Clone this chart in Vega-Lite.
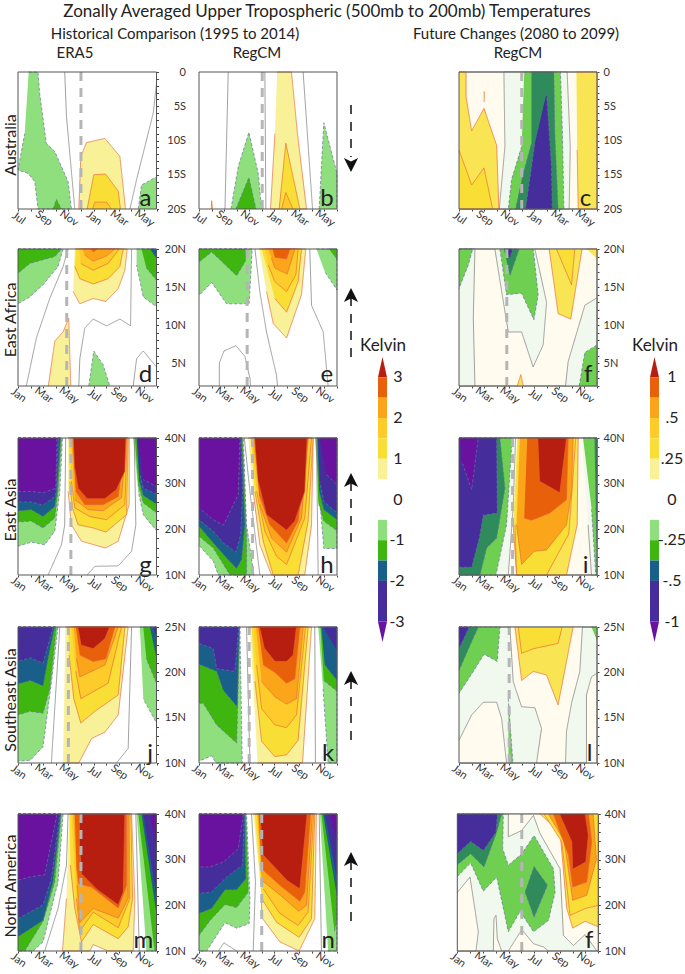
{"padding":0,"background":"white","autosize":"none","width":685,"height":974,"config":{"view":{"stroke":null},"axis":{"grid":false,"domain":false,"tickColor":"#444","labelFont":"Lato","labelFontSize":11,"labelColor":"#333","labelOverlap":false,"labelBound":false,"labelFlush":false,"title":null,"tickSize":2},"axisBottom":{"labelAngle":35,"labelAlign":"center","labelBaseline":"middle","labelPadding":7},"text":{"font":"Lato","color":"#222"}},
"datasets":{
"notes":[{"p":"a","d":5,"t":"a","x":10.13,"y":-18.6,"x0":0,"x1":11,"y0":-20,"y1":0},{"p":"b","d":5.04,"t":"b","x":10.2,"y":-18.6,"x0":0,"x1":11,"y0":-20,"y1":0},{"p":"c","d":5,"t":"c","x":10.08,"y":-18.6,"x0":0,"x1":11,"y0":-20,"y1":0},{"p":"d","d":3.87,"t":"d","x":10.13,"y":3.4,"x0":0,"x1":11,"y0":2,"y1":20},{"p":"e","d":3.84,"t":"e","x":10.2,"y":3.4,"x0":0,"x1":11,"y0":2,"y1":20},{"p":"f","d":3.81,"t":"f","x":10.3,"y":3.4,"x0":0,"x1":11,"y0":2,"y1":20},{"p":"g","d":4.2,"t":"g","x":10.13,"y":12,"x0":0,"x1":11,"y0":10,"y1":40},{"p":"h","d":4.27,"t":"h","x":10.2,"y":12,"x0":0,"x1":11,"y0":10,"y1":40},{"p":"i","d":4.27,"t":"i","x":10.1,"y":12,"x0":0,"x1":11,"y0":10,"y1":40},{"p":"j","d":4,"t":"j","x":10.5,"y":11,"x0":0,"x1":11,"y0":10,"y1":25},{"p":"k","d":4,"t":"k","x":10.3,"y":11,"x0":0,"x1":11,"y0":10,"y1":25},{"p":"l","d":4,"t":"l","x":10.4,"y":11,"x0":0,"x1":11,"y0":10,"y1":25},{"p":"m","d":5,"t":"m","x":9.95,"y":12.2,"x0":0,"x1":11,"y0":10,"y1":40},{"p":"n","d":5,"t":"n","x":10.3,"y":12.2,"x0":0,"x1":11,"y0":10,"y1":40},{"p":"o","d":5.03,"t":"f","x":10.3,"y":12.2,"x0":0,"x1":11,"y0":10,"y1":40}],
"a":[
{"k":1,"l":"N1","x":0.85,"y":0},{"k":1,"l":"N1","x":1.59,"y":0},{"k":1,"l":"N1","x":1.72,"y":-3.1},{"k":1,"l":"N1","x":2.25,"y":-10.4},{"k":1,"l":"N1","x":2.92,"y":-11.6},{"k":1,"l":"N1","x":3.98,"y":-16},{"k":1,"l":"N1","x":4.24,"y":-20},{"k":1,"l":"N1","x":1.59,"y":-20},{"k":1,"l":"N1","x":1.33,"y":-16},{"k":1,"l":"N1","x":0.8,"y":-14.8},{"k":1,"l":"N1","x":0,"y":-14.3},{"k":1,"l":"N1","x":0.53,"y":-9},
{"k":2,"l":"N2","x":2.79,"y":-20},{"k":2,"l":"N2","x":3.05,"y":-18.6},{"k":2,"l":"N2","x":3.45,"y":-20},
{"k":3,"l":"Z","x":3.71,"y":0},{"k":3,"l":"Z","x":3.85,"y":-6.5},{"k":3,"l":"Z","x":4.51,"y":-20},
{"k":4,"l":"P1","x":4.83,"y":-20},{"k":4,"l":"P1","x":4.99,"y":-12.3},{"k":4,"l":"P1","x":5.44,"y":-10.3},{"k":4,"l":"P1","x":6.9,"y":-9.7},{"k":4,"l":"P1","x":8.09,"y":-12.3},{"k":4,"l":"P1","x":8.54,"y":-20},
{"k":5,"l":"P2","x":5.49,"y":-20},{"k":5,"l":"P2","x":6.02,"y":-15},{"k":5,"l":"P2","x":6.95,"y":-14.9},{"k":5,"l":"P2","x":7.96,"y":-17.4},{"k":5,"l":"P2","x":8.14,"y":-20},
{"k":6,"l":"P3","x":5.92,"y":-20},{"k":6,"l":"P3","x":6.1,"y":-19},{"k":6,"l":"P3","x":7.03,"y":-19},{"k":6,"l":"P3","x":7.43,"y":-20},
{"k":7,"l":"Z","x":8.89,"y":-20},{"k":7,"l":"Z","x":9.42,"y":-15.7},{"k":7,"l":"Z","x":10.74,"y":-6},{"k":7,"l":"Z","x":11,"y":-1.7},
{"k":8,"l":"N1","x":9.55,"y":-20},{"k":8,"l":"N1","x":9.81,"y":-16.5},{"k":8,"l":"N1","x":11,"y":-15.3},{"k":8,"l":"N1","x":11,"y":-20}],
"b":[
{"k":1,"l":"Z","x":2.33,"y":0},{"k":1,"l":"Z","x":2.07,"y":-20},
{"k":2,"l":"Z","x":5.25,"y":0},{"k":2,"l":"Z","x":5.33,"y":-20},
{"k":3,"l":"Z","x":8.3,"y":0},{"k":3,"l":"Z","x":9.05,"y":-20},
{"k":4,"l":"P1","x":0.98,"y":-20},{"k":4,"l":"P1","x":1.01,"y":-18.8},{"k":4,"l":"P1","x":1.09,"y":-20},
{"k":5,"l":"N1","x":2.55,"y":-20},{"k":5,"l":"N1","x":3.13,"y":-13.8},{"k":5,"l":"N1","x":3.98,"y":-8.8},{"k":5,"l":"N1","x":4.72,"y":-14.8},{"k":5,"l":"N1","x":4.99,"y":-20},
{"k":6,"l":"N2","x":2.94,"y":-20},{"k":6,"l":"N2","x":3.98,"y":-15.4},{"k":6,"l":"N2","x":4.54,"y":-20},
{"k":7,"l":"N1","x":9.58,"y":-20},{"k":7,"l":"N1","x":9.95,"y":-7.4},{"k":7,"l":"N1","x":11,"y":-14.8},{"k":7,"l":"N1","x":11,"y":-20},
{"k":8,"l":"P1","x":6.23,"y":0},{"k":8,"l":"P1","x":7.37,"y":0},{"k":8,"l":"P1","x":7.85,"y":-9},{"k":8,"l":"P1","x":8.57,"y":-20},{"k":8,"l":"P1","x":5.7,"y":-20},{"k":8,"l":"P1","x":6.05,"y":-9},
{"k":9,"l":"P2","x":6.39,"y":-20},{"k":9,"l":"P2","x":6.92,"y":-10.4},{"k":9,"l":"P2","x":8.04,"y":-20},
{"k":10,"l":"P3","x":6.58,"y":-20},{"k":10,"l":"P3","x":6.92,"y":-17.6},{"k":10,"l":"P3","x":7.5,"y":-20}],
"c":[
{"k":1,"l":"F1","x":0,"y":0},{"k":1,"l":"F1","x":11,"y":0},{"k":1,"l":"F1","x":11,"y":-20},{"k":1,"l":"F1","x":0,"y":-20},
{"k":2,"l":"G1","x":3.58,"y":0},{"k":2,"l":"G1","x":8.62,"y":0},{"k":2,"l":"G1","x":8.87,"y":-11},{"k":2,"l":"G1","x":8.78,"y":-20},{"k":2,"l":"G1","x":3.21,"y":-20},{"k":2,"l":"G1","x":3.66,"y":-10.9},{"k":2,"l":"G1","x":3.58,"y":0},
{"k":3,"l":"F2","x":0,"y":0},{"k":3,"l":"F2","x":0.56,"y":0},{"k":3,"l":"F2","x":0.56,"y":-3.6},{"k":3,"l":"F2","x":1.01,"y":-8.6},{"k":3,"l":"F2","x":1.99,"y":-5.3},{"k":3,"l":"F2","x":3,"y":-10.7},{"k":3,"l":"F2","x":3.18,"y":-20},{"k":3,"l":"F2","x":0,"y":-20},
{"k":4,"l":"P2","x":0,"y":-11.4},{"k":4,"l":"P2","x":1.01,"y":-16.5},{"k":4,"l":"P2","x":1.99,"y":-14},{"k":4,"l":"P2","x":2.68,"y":-20},{"k":4,"l":"P2","x":0,"y":-20},
{"k":5,"l":"F2","x":1.96,"y":-2.9},{"k":5,"l":"F2","x":2.02,"y":-2.9},{"k":5,"l":"F2","x":2,"y":-4.4},
{"k":6,"l":"G2","x":5.2,"y":0},{"k":6,"l":"G2","x":8.09,"y":0},{"k":6,"l":"G2","x":8.25,"y":-9.4},{"k":6,"l":"G2","x":8.36,"y":-20},{"k":6,"l":"G2","x":3.93,"y":-20},{"k":6,"l":"G2","x":4.19,"y":-15.7},{"k":6,"l":"G2","x":4.99,"y":-10.9},
{"k":7,"l":"G3","x":5.78,"y":0},{"k":7,"l":"G3","x":7.56,"y":0},{"k":7,"l":"G3","x":7.64,"y":-9},{"k":7,"l":"G3","x":7.9,"y":-20},{"k":7,"l":"G3","x":4.51,"y":-20},{"k":7,"l":"G3","x":5.12,"y":-14.8},{"k":7,"l":"G3","x":5.78,"y":-10.4},
{"k":8,"l":"N4","x":6.98,"y":-3.1},{"k":8,"l":"N4","x":7.37,"y":-13.8},{"k":8,"l":"N4","x":7.43,"y":-20},{"k":8,"l":"N4","x":5.3,"y":-20},{"k":8,"l":"N4","x":6.05,"y":-10.4},
{"k":9,"l":"F2","x":9.36,"y":0},{"k":9,"l":"F2","x":11,"y":0},{"k":9,"l":"F2","x":11,"y":-20},{"k":9,"l":"F2","x":9.5,"y":-20},{"k":9,"l":"F2","x":9.42,"y":-11.4}],
"d":[
{"k":1,"l":"N1","x":0,"y":20},{"k":1,"l":"N1","x":3.58,"y":20},{"k":1,"l":"N1","x":3.18,"y":17.7},{"k":1,"l":"N1","x":1.99,"y":15.3},{"k":1,"l":"N1","x":0.93,"y":13.7},{"k":1,"l":"N1","x":0,"y":12.8},
{"k":2,"l":"N2","x":0,"y":20},{"k":2,"l":"N2","x":3.45,"y":20},{"k":2,"l":"N2","x":2.92,"y":19},{"k":2,"l":"N2","x":1.99,"y":18.6},{"k":2,"l":"N2","x":0.93,"y":18.1},{"k":2,"l":"N2","x":0,"y":16.8},
{"k":3,"l":"Z","x":3.98,"y":20},{"k":3,"l":"Z","x":3.58,"y":17.7},{"k":3,"l":"Z","x":2.52,"y":13.5},{"k":3,"l":"Z","x":1.46,"y":8.3},{"k":3,"l":"Z","x":0.66,"y":2},
{"k":4,"l":"P1","x":2.41,"y":2},{"k":4,"l":"P1","x":2.92,"y":7.9},{"k":4,"l":"P1","x":3.58,"y":9.1},{"k":4,"l":"P1","x":4.03,"y":10.9},{"k":4,"l":"P1","x":4.19,"y":2},
{"k":5,"l":"P1","x":4.51,"y":20},{"k":5,"l":"P1","x":8.67,"y":20},{"k":5,"l":"P1","x":8.49,"y":17.2},{"k":5,"l":"P1","x":7.96,"y":14.8},{"k":5,"l":"P1","x":6.98,"y":13.1},{"k":5,"l":"P1","x":5.97,"y":13.5},{"k":5,"l":"P1","x":4.91,"y":12.8},{"k":5,"l":"P1","x":4.38,"y":14.4},
{"k":6,"l":"P2","x":4.59,"y":20},{"k":6,"l":"P2","x":8.36,"y":20},{"k":6,"l":"P2","x":8.09,"y":17.7},{"k":6,"l":"P2","x":7.16,"y":16.1},{"k":6,"l":"P2","x":5.97,"y":15.4},{"k":6,"l":"P2","x":4.91,"y":16.1},{"k":6,"l":"P2","x":4.51,"y":17.7},
{"k":7,"l":"P3","x":4.85,"y":20},{"k":7,"l":"P3","x":8.03,"y":20},{"k":7,"l":"P3","x":7.16,"y":18.1},{"k":7,"l":"P3","x":5.97,"y":17.2},{"k":7,"l":"P3","x":4.99,"y":18.1},
{"k":8,"l":"P4","x":5.12,"y":20},{"k":8,"l":"P4","x":7.69,"y":20},{"k":8,"l":"P4","x":7.03,"y":19.1},{"k":8,"l":"P4","x":5.97,"y":18.4},{"k":8,"l":"P4","x":5.3,"y":19.2},
{"k":9,"l":"P5","x":5.76,"y":20},{"k":9,"l":"P5","x":6.29,"y":20},{"k":9,"l":"P5","x":5.97,"y":19.6},
{"k":10,"l":"Z","x":4.83,"y":2},{"k":10,"l":"Z","x":4.91,"y":5.6},{"k":10,"l":"Z","x":5.3,"y":9.6},{"k":10,"l":"Z","x":5.97,"y":10.8},{"k":10,"l":"Z","x":7.03,"y":9.9},{"k":10,"l":"Z","x":8.09,"y":10.8},{"k":10,"l":"Z","x":8.94,"y":9.9},{"k":10,"l":"Z","x":9.02,"y":20},
{"k":11,"l":"N1","x":5.62,"y":2},{"k":11,"l":"N1","x":6.02,"y":6.6},{"k":11,"l":"N1","x":6.76,"y":4.8},{"k":11,"l":"N1","x":7.29,"y":2},
{"k":12,"l":"N1","x":9.42,"y":20},{"k":12,"l":"N1","x":11,"y":20},{"k":12,"l":"N1","x":11,"y":12.4},{"k":12,"l":"N1","x":9.95,"y":13.7},{"k":12,"l":"N1","x":9.42,"y":17.9},
{"k":13,"l":"N2","x":9.81,"y":20},{"k":13,"l":"N2","x":11,"y":20},{"k":13,"l":"N2","x":11,"y":15.9},{"k":13,"l":"N2","x":10.2,"y":17.5},
{"k":14,"l":"N3","x":10.48,"y":20},{"k":14,"l":"N3","x":11,"y":20},{"k":14,"l":"N3","x":11,"y":18.8},
{"k":15,"l":"Z","x":9.15,"y":2},{"k":15,"l":"Z","x":9.42,"y":5.6},{"k":15,"l":"Z","x":9.95,"y":6.6},{"k":15,"l":"Z","x":11,"y":4.5}],
"e":[
{"k":1,"l":"N1","x":0,"y":20},{"k":1,"l":"N1","x":4.24,"y":20},{"k":1,"l":"N1","x":4,"y":12.8},{"k":1,"l":"N1","x":2.2,"y":12.8},{"k":1,"l":"N1","x":1.01,"y":15.6},{"k":1,"l":"N1","x":0,"y":13.9},
{"k":2,"l":"N2","x":0,"y":20},{"k":2,"l":"N2","x":3.93,"y":20},{"k":2,"l":"N2","x":3.66,"y":18.3},{"k":2,"l":"N2","x":3,"y":16.5},{"k":2,"l":"N2","x":1.67,"y":18.6},{"k":2,"l":"N2","x":1.01,"y":19.6},{"k":2,"l":"N2","x":0,"y":18.3},
{"k":3,"l":"Z","x":1.62,"y":2},{"k":3,"l":"Z","x":1.62,"y":5},{"k":3,"l":"Z","x":1.99,"y":6.6},{"k":3,"l":"Z","x":2.94,"y":7.3},{"k":3,"l":"Z","x":3.66,"y":5.9},{"k":3,"l":"Z","x":4.06,"y":3},{"k":3,"l":"Z","x":4.11,"y":2},
{"k":4,"l":"Z","x":4.46,"y":20},{"k":4,"l":"Z","x":4.85,"y":14.4},{"k":4,"l":"Z","x":5.38,"y":9.1},{"k":4,"l":"Z","x":6.18,"y":3.4},{"k":4,"l":"Z","x":6.26,"y":2},
{"k":5,"l":"P1","x":4.8,"y":20},{"k":5,"l":"P1","x":8.51,"y":20},{"k":5,"l":"P1","x":8.17,"y":14},{"k":5,"l":"P1","x":6.98,"y":8.3},{"k":5,"l":"P1","x":5.92,"y":10.2},{"k":5,"l":"P1","x":5.38,"y":14.4},
{"k":6,"l":"P2","x":4.99,"y":20},{"k":6,"l":"P2","x":8.17,"y":20},{"k":6,"l":"P2","x":7.9,"y":15.7},{"k":6,"l":"P2","x":6.98,"y":11.7},{"k":6,"l":"P2","x":6.05,"y":13.5},
{"k":7,"l":"P3","x":5.25,"y":20},{"k":7,"l":"P3","x":7.9,"y":20},{"k":7,"l":"P3","x":7.72,"y":16.6},{"k":7,"l":"P3","x":6.98,"y":14.4},{"k":7,"l":"P3","x":6.05,"y":15.7},{"k":7,"l":"P3","x":5.52,"y":17.9},
{"k":8,"l":"P4","x":5.52,"y":20},{"k":8,"l":"P4","x":7.64,"y":20},{"k":8,"l":"P4","x":7.03,"y":16.7},{"k":8,"l":"P4","x":6.05,"y":17.5},{"k":8,"l":"P4","x":5.78,"y":18.8},
{"k":9,"l":"P5","x":5.86,"y":20},{"k":9,"l":"P5","x":7.24,"y":20},{"k":9,"l":"P5","x":6.98,"y":18.7},{"k":9,"l":"P5","x":6.05,"y":18.9},
{"k":10,"l":"Z","x":8.83,"y":20},{"k":10,"l":"Z","x":8.97,"y":12.6},{"k":10,"l":"Z","x":9.9,"y":9.1},{"k":10,"l":"Z","x":10.29,"y":2},
{"k":11,"l":"N1","x":9.36,"y":20},{"k":11,"l":"N1","x":11,"y":20},{"k":11,"l":"N1","x":11,"y":14.6},{"k":11,"l":"N1","x":10.03,"y":17},
{"k":12,"l":"N2","x":10.37,"y":20},{"k":12,"l":"N2","x":11,"y":20},{"k":12,"l":"N2","x":11,"y":18.6}],
"f":[
{"k":1,"l":"F1","x":0,"y":20},{"k":1,"l":"F1","x":11,"y":20},{"k":1,"l":"F1","x":11,"y":2},{"k":1,"l":"F1","x":0,"y":2},
{"k":2,"l":"G1","x":0,"y":20},{"k":2,"l":"G1","x":1.27,"y":20},{"k":2,"l":"G1","x":1.14,"y":10.9},{"k":2,"l":"G1","x":1.27,"y":2},{"k":2,"l":"G1","x":0,"y":2},
{"k":3,"l":"G1","x":2.86,"y":20},{"k":3,"l":"G1","x":3.53,"y":13.1},{"k":3,"l":"G1","x":3.93,"y":9.1},{"k":3,"l":"G1","x":4.99,"y":9.1},{"k":3,"l":"G1","x":5.91,"y":4.5},{"k":3,"l":"G1","x":6.71,"y":7.4},{"k":3,"l":"G1","x":6.98,"y":13},{"k":3,"l":"G1","x":6.05,"y":20},
{"k":4,"l":"G1","x":8.49,"y":2},{"k":4,"l":"G1","x":8.7,"y":5.2},{"k":4,"l":"G1","x":10.03,"y":12.6},{"k":4,"l":"G1","x":11,"y":13.6},{"k":4,"l":"G1","x":11,"y":2},
{"k":5,"l":"G2","x":0,"y":20},{"k":5,"l":"G2","x":1.09,"y":20},{"k":5,"l":"G2","x":0.74,"y":17.9},{"k":5,"l":"G2","x":0,"y":14.8},
{"k":6,"l":"G2","x":3.26,"y":20},{"k":6,"l":"G2","x":3.79,"y":14},{"k":6,"l":"G2","x":4.99,"y":14.2},{"k":6,"l":"G2","x":5.97,"y":10.7},{"k":6,"l":"G2","x":6.31,"y":14},{"k":6,"l":"G2","x":5.92,"y":20},
{"k":7,"l":"G2","x":9.58,"y":2},{"k":7,"l":"G2","x":10.03,"y":6.4},{"k":7,"l":"G2","x":11,"y":7.4},{"k":7,"l":"G2","x":11,"y":2},
{"k":8,"l":"G3","x":3.58,"y":20},{"k":8,"l":"G3","x":4.8,"y":20},{"k":8,"l":"G3","x":4.06,"y":16.5},
{"k":9,"l":"N4","x":3.79,"y":20},{"k":9,"l":"N4","x":4.27,"y":20},{"k":9,"l":"N4","x":4.06,"y":18.8},
{"k":10,"l":"F2","x":7.19,"y":20},{"k":10,"l":"F2","x":7.9,"y":11.5},{"k":10,"l":"F2","x":8.91,"y":10.8},{"k":10,"l":"F2","x":9.81,"y":20},
{"k":11,"l":"P2","x":7.77,"y":20},{"k":11,"l":"P2","x":8.97,"y":15.3},{"k":11,"l":"P2","x":9.23,"y":20},
{"k":12,"l":"F2","x":10.21,"y":20},{"k":12,"l":"F2","x":11,"y":20},{"k":12,"l":"F2","x":11,"y":18.7},
{"k":13,"l":"F2","x":4.64,"y":2},{"k":13,"l":"F2","x":4.93,"y":3.5},{"k":13,"l":"F2","x":5.12,"y":2}],
"g":[
{"k":1,"l":"N1","x":0,"y":40},{"k":1,"l":"N1","x":3.53,"y":40},{"k":1,"l":"N1","x":3.32,"y":28.3},{"k":1,"l":"N1","x":2.92,"y":19.6},{"k":1,"l":"N1","x":2.12,"y":16.6},{"k":1,"l":"N1","x":1.06,"y":17.2},{"k":1,"l":"N1","x":0,"y":16.3},
{"k":2,"l":"N2","x":0,"y":40},{"k":2,"l":"N2","x":3.45,"y":40},{"k":2,"l":"N2","x":3.18,"y":28.3},{"k":2,"l":"N2","x":2.92,"y":22.5},{"k":2,"l":"N2","x":1.99,"y":20.3},{"k":2,"l":"N2","x":1.06,"y":21.8},{"k":2,"l":"N2","x":0,"y":21.6},
{"k":3,"l":"N3","x":0,"y":40},{"k":3,"l":"N3","x":3.37,"y":40},{"k":3,"l":"N3","x":3.1,"y":28.3},{"k":3,"l":"N3","x":2.92,"y":25},{"k":3,"l":"N3","x":1.99,"y":22.8},{"k":3,"l":"N3","x":1.06,"y":24.3},{"k":3,"l":"N3","x":0,"y":24},
{"k":4,"l":"N4","x":0,"y":40},{"k":4,"l":"N4","x":3.2,"y":40},{"k":4,"l":"N4","x":3,"y":28},{"k":4,"l":"N4","x":2.92,"y":27.2},{"k":4,"l":"N4","x":1.99,"y":25.3},{"k":4,"l":"N4","x":1.06,"y":26},{"k":4,"l":"N4","x":0,"y":26},
{"k":5,"l":"N5","x":0,"y":40},{"k":5,"l":"N5","x":3.1,"y":40},{"k":5,"l":"N5","x":3,"y":29},{"k":5,"l":"N5","x":1.99,"y":28},{"k":5,"l":"N5","x":1.06,"y":28.3},{"k":5,"l":"N5","x":0,"y":28.3},
{"k":6,"l":"N1","x":9.15,"y":40},{"k":6,"l":"N1","x":11,"y":40},{"k":6,"l":"N1","x":11,"y":19.7},{"k":6,"l":"N1","x":9.95,"y":23.2},{"k":6,"l":"N1","x":9.55,"y":28.3},
{"k":7,"l":"N2","x":9.28,"y":40},{"k":7,"l":"N2","x":11,"y":40},{"k":7,"l":"N2","x":11,"y":23.6},{"k":7,"l":"N2","x":9.95,"y":25.8},{"k":7,"l":"N2","x":9.55,"y":29.8},
{"k":8,"l":"N3","x":9.42,"y":40},{"k":8,"l":"N3","x":11,"y":40},{"k":8,"l":"N3","x":11,"y":25.5},{"k":8,"l":"N3","x":9.95,"y":27.4},{"k":8,"l":"N3","x":9.63,"y":30.5},
{"k":9,"l":"N4","x":9.47,"y":40},{"k":9,"l":"N4","x":11,"y":40},{"k":9,"l":"N4","x":11,"y":27.7},{"k":9,"l":"N4","x":9.95,"y":29},{"k":9,"l":"N4","x":9.68,"y":32},
{"k":10,"l":"N5","x":9.55,"y":40},{"k":10,"l":"N5","x":11,"y":40},{"k":10,"l":"N5","x":11,"y":29.4},{"k":10,"l":"N5","x":9.95,"y":30.9},
{"k":11,"l":"Z","x":3.79,"y":40},{"k":11,"l":"Z","x":3.71,"y":21},{"k":11,"l":"Z","x":3.45,"y":16.6},{"k":11,"l":"Z","x":2.39,"y":10},
{"k":12,"l":"Z","x":9.23,"y":40},{"k":12,"l":"Z","x":9.36,"y":21},{"k":12,"l":"Z","x":9.02,"y":15.2},{"k":12,"l":"Z","x":7.96,"y":12},{"k":12,"l":"Z","x":6.1,"y":11.9},{"k":12,"l":"Z","x":5.49,"y":10},
{"k":13,"l":"P1","x":3.98,"y":40},{"k":13,"l":"P1","x":8.83,"y":40},{"k":13,"l":"P1","x":8.83,"y":25.4},{"k":13,"l":"P1","x":7.96,"y":17.4},{"k":13,"l":"P1","x":6.95,"y":15.9},{"k":13,"l":"P1","x":5.04,"y":17.4},{"k":13,"l":"P1","x":4.24,"y":21},{"k":13,"l":"P1","x":3.98,"y":28.3},
{"k":14,"l":"P2","x":4.03,"y":40},{"k":14,"l":"P2","x":8.75,"y":40},{"k":14,"l":"P2","x":8.62,"y":23.2},{"k":14,"l":"P2","x":6.98,"y":19.4},{"k":14,"l":"P2","x":5.97,"y":20.3},{"k":14,"l":"P2","x":4.77,"y":21},{"k":14,"l":"P2","x":4.32,"y":24.7},{"k":14,"l":"P2","x":4.11,"y":30.5},
{"k":15,"l":"P3","x":4.16,"y":40},{"k":15,"l":"P3","x":8.67,"y":40},{"k":15,"l":"P3","x":8.49,"y":25.4},{"k":15,"l":"P3","x":7.03,"y":22.1},{"k":15,"l":"P3","x":5.7,"y":22.8},{"k":15,"l":"P3","x":4.51,"y":24.7},{"k":15,"l":"P3","x":4.24,"y":30.5},
{"k":16,"l":"P4","x":4.24,"y":40},{"k":16,"l":"P4","x":8.62,"y":40},{"k":16,"l":"P4","x":8.22,"y":26.9},{"k":16,"l":"P4","x":6.76,"y":24.1},{"k":16,"l":"P4","x":5.57,"y":24.3},{"k":16,"l":"P4","x":4.51,"y":26.5},
{"k":17,"l":"P5","x":4.32,"y":40},{"k":17,"l":"P5","x":8.57,"y":40},{"k":17,"l":"P5","x":7.96,"y":27.2},{"k":17,"l":"P5","x":6.76,"y":25.4},{"k":17,"l":"P5","x":5.3,"y":25.4},{"k":17,"l":"P5","x":4.59,"y":28.3},
{"k":18,"l":"P6","x":4.43,"y":40},{"k":18,"l":"P6","x":8.57,"y":40},{"k":18,"l":"P6","x":8.49,"y":32.7},{"k":18,"l":"P6","x":7.82,"y":28.7},{"k":18,"l":"P6","x":6.9,"y":26.7},{"k":18,"l":"P6","x":5.49,"y":26.7},{"k":18,"l":"P6","x":4.77,"y":29},{"k":18,"l":"P6","x":4.51,"y":33.4}],
"h":[
{"k":1,"l":"N1","x":0,"y":40},{"k":1,"l":"N1","x":3.53,"y":40},{"k":1,"l":"N1","x":3.79,"y":21},{"k":1,"l":"N1","x":4.38,"y":10},{"k":1,"l":"N1","x":1.54,"y":10},{"k":1,"l":"N1","x":1.14,"y":13},{"k":1,"l":"N1","x":0,"y":16.5},
{"k":2,"l":"N2","x":0,"y":40},{"k":2,"l":"N2","x":3.47,"y":40},{"k":2,"l":"N2","x":3.79,"y":18.8},{"k":2,"l":"N2","x":3.79,"y":10},{"k":2,"l":"N2","x":2.47,"y":10},{"k":2,"l":"N2","x":1.14,"y":15.9},{"k":2,"l":"N2","x":0,"y":18.5},
{"k":3,"l":"N3","x":0,"y":40},{"k":3,"l":"N3","x":3.4,"y":40},{"k":3,"l":"N3","x":3.66,"y":21},{"k":3,"l":"N3","x":3.4,"y":13.4},{"k":3,"l":"N3","x":3,"y":11.4},{"k":3,"l":"N3","x":2.2,"y":13.7},{"k":3,"l":"N3","x":1.14,"y":17},{"k":3,"l":"N3","x":0,"y":20.7},
{"k":4,"l":"N4","x":0,"y":40},{"k":4,"l":"N4","x":3.32,"y":40},{"k":4,"l":"N4","x":3.47,"y":28.3},{"k":4,"l":"N4","x":3.32,"y":18.8},{"k":4,"l":"N4","x":2.94,"y":15},{"k":4,"l":"N4","x":1.94,"y":17},{"k":4,"l":"N4","x":1.14,"y":19.6},{"k":4,"l":"N4","x":0,"y":22.1},
{"k":5,"l":"N5","x":0,"y":40},{"k":5,"l":"N5","x":3.26,"y":40},{"k":5,"l":"N5","x":3.13,"y":27.6},{"k":5,"l":"N5","x":1.94,"y":20.9},{"k":5,"l":"N5","x":1.14,"y":22.1},{"k":5,"l":"N5","x":0,"y":24.7},
{"k":6,"l":"N1","x":9.23,"y":40},{"k":6,"l":"N1","x":11,"y":40},{"k":6,"l":"N1","x":11,"y":15.8},{"k":6,"l":"N1","x":9.95,"y":15.8},{"k":6,"l":"N1","x":9.68,"y":24.7},
{"k":7,"l":"N2","x":9.36,"y":40},{"k":7,"l":"N2","x":11,"y":40},{"k":7,"l":"N2","x":11,"y":19.7},{"k":7,"l":"N2","x":9.95,"y":21.8},{"k":7,"l":"N2","x":9.5,"y":26},
{"k":8,"l":"N3","x":9.44,"y":40},{"k":8,"l":"N3","x":11,"y":40},{"k":8,"l":"N3","x":11,"y":22.1},{"k":8,"l":"N3","x":9.95,"y":24.3},{"k":8,"l":"N3","x":9.58,"y":28.3},
{"k":9,"l":"N4","x":9.5,"y":40},{"k":9,"l":"N4","x":11,"y":40},{"k":9,"l":"N4","x":11,"y":23.6},{"k":9,"l":"N4","x":9.95,"y":26.1},{"k":9,"l":"N4","x":9.63,"y":30.5},
{"k":10,"l":"N5","x":9.63,"y":40},{"k":10,"l":"N5","x":11,"y":40},{"k":10,"l":"N5","x":11,"y":29.8},{"k":10,"l":"N5","x":10.16,"y":32},
{"k":11,"l":"Z","x":3.61,"y":40},{"k":11,"l":"Z","x":4.06,"y":28.3},{"k":11,"l":"Z","x":4.85,"y":10},
{"k":12,"l":"Z","x":9.36,"y":40},{"k":12,"l":"Z","x":9.5,"y":10},
{"k":13,"l":"P1","x":3.93,"y":40},{"k":13,"l":"P1","x":9.1,"y":40},{"k":13,"l":"P1","x":8.97,"y":21},{"k":13,"l":"P1","x":8.43,"y":10},{"k":13,"l":"P1","x":5.78,"y":10},{"k":13,"l":"P1","x":4.85,"y":16.6},{"k":13,"l":"P1","x":4.32,"y":28.3},
{"k":14,"l":"P2","x":4.11,"y":40},{"k":14,"l":"P2","x":9.1,"y":40},{"k":14,"l":"P2","x":8.7,"y":21.8},{"k":14,"l":"P2","x":7.9,"y":10},{"k":14,"l":"P2","x":5.92,"y":10},{"k":14,"l":"P2","x":5.12,"y":17.4},{"k":14,"l":"P2","x":4.46,"y":28.3},
{"k":15,"l":"P3","x":4.19,"y":40},{"k":15,"l":"P3","x":8.97,"y":40},{"k":15,"l":"P3","x":8.43,"y":22.5},{"k":15,"l":"P3","x":6.98,"y":12.3},{"k":15,"l":"P3","x":6.18,"y":14.1},{"k":15,"l":"P3","x":5.25,"y":19.6},{"k":15,"l":"P3","x":4.59,"y":28.3},
{"k":16,"l":"P4","x":4.27,"y":40},{"k":16,"l":"P4","x":8.7,"y":40},{"k":16,"l":"P4","x":8.17,"y":22.5},{"k":16,"l":"P4","x":6.98,"y":15},{"k":16,"l":"P4","x":5.78,"y":18.1},{"k":16,"l":"P4","x":4.85,"y":25.4},
{"k":17,"l":"P5","x":4.38,"y":40},{"k":17,"l":"P5","x":8.7,"y":40},{"k":17,"l":"P5","x":7.9,"y":21.8},{"k":17,"l":"P5","x":6.98,"y":17},{"k":17,"l":"P5","x":5.65,"y":21},{"k":17,"l":"P5","x":4.8,"y":27.6},
{"k":18,"l":"P6","x":4.46,"y":40},{"k":18,"l":"P6","x":8.62,"y":40},{"k":18,"l":"P6","x":8.43,"y":28.3},{"k":18,"l":"P6","x":7.64,"y":21.8},{"k":18,"l":"P6","x":6.98,"y":19.8},{"k":18,"l":"P6","x":5.38,"y":23.2},{"k":18,"l":"P6","x":4.72,"y":30.5}],
"i":[
{"k":1,"l":"F1","x":0,"y":40},{"k":1,"l":"F1","x":11,"y":40},{"k":1,"l":"F1","x":11,"y":10},{"k":1,"l":"F1","x":0,"y":10},
{"k":2,"l":"G1","x":0,"y":40},{"k":2,"l":"G1","x":4.51,"y":40},{"k":2,"l":"G1","x":4.32,"y":25},{"k":2,"l":"G1","x":3.93,"y":10},{"k":2,"l":"G1","x":0,"y":10},
{"k":3,"l":"G2","x":0,"y":40},{"k":3,"l":"G2","x":4.24,"y":40},{"k":3,"l":"G2","x":3.79,"y":21},{"k":3,"l":"G2","x":2.94,"y":10},{"k":3,"l":"G2","x":0,"y":10},
{"k":4,"l":"G3","x":0,"y":40},{"k":4,"l":"G3","x":3.26,"y":40},{"k":4,"l":"G3","x":3.66,"y":29},{"k":4,"l":"G3","x":3,"y":18.1},{"k":4,"l":"G3","x":2.2,"y":15.9},{"k":4,"l":"G3","x":1.67,"y":10},{"k":4,"l":"G3","x":0,"y":10},
{"k":5,"l":"N4","x":0,"y":40},{"k":5,"l":"N4","x":3,"y":40},{"k":5,"l":"N4","x":3.05,"y":23.6},{"k":5,"l":"N4","x":1.94,"y":23.1},{"k":5,"l":"N4","x":1.62,"y":18.1},{"k":5,"l":"N4","x":1.01,"y":11.7},{"k":5,"l":"N4","x":0,"y":11.7},
{"k":6,"l":"N5","x":0.08,"y":40},{"k":6,"l":"N5","x":1.54,"y":40},{"k":6,"l":"N5","x":1.01,"y":28.7},{"k":6,"l":"N5","x":0.21,"y":34.9},
{"k":7,"l":"G1","x":9.76,"y":40},{"k":7,"l":"G1","x":11,"y":40},{"k":7,"l":"G1","x":11,"y":10},{"k":7,"l":"G1","x":10.56,"y":10},{"k":7,"l":"G1","x":10.29,"y":21},
{"k":8,"l":"G2","x":9.89,"y":40},{"k":8,"l":"G2","x":11,"y":40},{"k":8,"l":"G2","x":11,"y":10},{"k":8,"l":"G2","x":10.9,"y":10},{"k":8,"l":"G2","x":10.56,"y":24.7},
{"k":9,"l":"G3","x":10.8,"y":40},{"k":9,"l":"G3","x":11,"y":40},{"k":9,"l":"G3","x":11,"y":17},{"k":9,"l":"G3","x":10.9,"y":25},
{"k":10,"l":"F2","x":4.64,"y":40},{"k":10,"l":"F2","x":9.5,"y":40},{"k":10,"l":"F2","x":9.42,"y":21},{"k":10,"l":"F2","x":8.57,"y":10},{"k":10,"l":"F2","x":4.59,"y":10},{"k":10,"l":"F2","x":4.32,"y":21},
{"k":11,"l":"P2","x":4.72,"y":40},{"k":11,"l":"P2","x":9.31,"y":40},{"k":11,"l":"P2","x":8.75,"y":19},{"k":11,"l":"P2","x":6.98,"y":10},{"k":11,"l":"P2","x":4.59,"y":10},{"k":11,"l":"P2","x":4.46,"y":21},
{"k":12,"l":"P4","x":4.85,"y":40},{"k":12,"l":"P4","x":9.1,"y":40},{"k":12,"l":"P4","x":8.97,"y":28.3},{"k":12,"l":"P4","x":8.57,"y":21},{"k":12,"l":"P4","x":6.98,"y":15.5},{"k":12,"l":"P4","x":6,"y":15.2},{"k":12,"l":"P4","x":4.99,"y":12.3},{"k":12,"l":"P4","x":4.59,"y":21},
{"k":13,"l":"P5","x":5.44,"y":40},{"k":13,"l":"P5","x":8.7,"y":40},{"k":13,"l":"P5","x":8.57,"y":26.5},{"k":13,"l":"P5","x":7.24,"y":23.6},{"k":13,"l":"P5","x":5.78,"y":22},{"k":13,"l":"P5","x":5.2,"y":22.5},
{"k":14,"l":"P6","x":6.31,"y":40},{"k":14,"l":"P6","x":8.57,"y":40},{"k":14,"l":"P6","x":8.04,"y":28},{"k":14,"l":"P6","x":6.45,"y":30.5}],
"j":[
{"k":1,"l":"N1","x":0,"y":25},{"k":1,"l":"N1","x":3.18,"y":25},{"k":1,"l":"N1","x":2.65,"y":18.9},{"k":1,"l":"N1","x":1.99,"y":11.8},{"k":1,"l":"N1","x":0.98,"y":10.3},{"k":1,"l":"N1","x":0,"y":10.2},
{"k":2,"l":"N2","x":0,"y":25},{"k":2,"l":"N2","x":3.05,"y":25},{"k":2,"l":"N2","x":2.52,"y":18.2},{"k":2,"l":"N2","x":1.99,"y":15.5},{"k":2,"l":"N2","x":0.93,"y":15.7},{"k":2,"l":"N2","x":0,"y":15.3},
{"k":3,"l":"N3","x":0,"y":25},{"k":3,"l":"N3","x":2.92,"y":25},{"k":3,"l":"N3","x":2.39,"y":21.5},{"k":3,"l":"N3","x":1.99,"y":18.5},{"k":3,"l":"N3","x":0.98,"y":19.1},{"k":3,"l":"N3","x":0,"y":18.7},
{"k":4,"l":"N4","x":0,"y":25},{"k":4,"l":"N4","x":2.79,"y":25},{"k":4,"l":"N4","x":1.99,"y":21},{"k":4,"l":"N4","x":0.98,"y":21.6},{"k":4,"l":"N4","x":0,"y":21.2},
{"k":5,"l":"N1","x":9.68,"y":25},{"k":5,"l":"N1","x":11,"y":25},{"k":5,"l":"N1","x":11,"y":14.4},{"k":5,"l":"N1","x":9.95,"y":17.1},
{"k":6,"l":"N2","x":9.95,"y":25},{"k":6,"l":"N2","x":11,"y":25},{"k":6,"l":"N2","x":11,"y":18.8},{"k":6,"l":"N2","x":10.2,"y":21.5},
{"k":7,"l":"N3","x":10.48,"y":25},{"k":7,"l":"N3","x":11,"y":25},{"k":7,"l":"N3","x":11,"y":21.5},
{"k":8,"l":"N4","x":10.74,"y":25},{"k":8,"l":"N4","x":11,"y":25},{"k":8,"l":"N4","x":11,"y":23.9},
{"k":9,"l":"Z","x":3.32,"y":25},{"k":9,"l":"Z","x":2.65,"y":10},
{"k":10,"l":"Z","x":9.02,"y":25},{"k":10,"l":"Z","x":8.75,"y":11.6},{"k":10,"l":"Z","x":7.82,"y":10},
{"k":11,"l":"P1","x":3.77,"y":25},{"k":11,"l":"P1","x":8.75,"y":25},{"k":11,"l":"P1","x":7.96,"y":15.3},{"k":11,"l":"P1","x":6.9,"y":13.4},{"k":11,"l":"P1","x":5.84,"y":12.7},{"k":11,"l":"P1","x":4.83,"y":10},{"k":11,"l":"P1","x":3.58,"y":10},
{"k":12,"l":"P2","x":3.98,"y":25},{"k":12,"l":"P2","x":8.49,"y":25},{"k":12,"l":"P2","x":7.96,"y":17.5},{"k":12,"l":"P2","x":6.1,"y":15.7},{"k":12,"l":"P2","x":4.99,"y":14.4},{"k":12,"l":"P2","x":4.43,"y":17.1},{"k":12,"l":"P2","x":4.06,"y":21.9},
{"k":13,"l":"P3","x":4.24,"y":25},{"k":13,"l":"P3","x":8.22,"y":25},{"k":13,"l":"P3","x":7.16,"y":18.8},{"k":13,"l":"P3","x":4.99,"y":17.1},{"k":13,"l":"P3","x":4.59,"y":20.1},
{"k":14,"l":"P4","x":4.43,"y":25},{"k":14,"l":"P4","x":7.96,"y":25},{"k":14,"l":"P4","x":6.9,"y":20.8},{"k":14,"l":"P4","x":4.91,"y":19.5},{"k":14,"l":"P4","x":4.64,"y":21.5},
{"k":15,"l":"P5","x":4.59,"y":25},{"k":15,"l":"P5","x":7.69,"y":25},{"k":15,"l":"P5","x":6.98,"y":21.5},{"k":15,"l":"P5","x":5.97,"y":21.2},{"k":15,"l":"P5","x":4.91,"y":21.9},
{"k":16,"l":"P6","x":4.77,"y":25},{"k":16,"l":"P6","x":7.29,"y":25},{"k":16,"l":"P6","x":6.9,"y":23.7},{"k":16,"l":"P6","x":5.97,"y":22.6},{"k":16,"l":"P6","x":5.04,"y":23}],
"k":[
{"k":1,"l":"N1","x":0,"y":25},{"k":1,"l":"N1","x":3.26,"y":25},{"k":1,"l":"N1","x":3.45,"y":10},{"k":1,"l":"N1","x":1.35,"y":10},{"k":1,"l":"N1","x":1.01,"y":10.8},{"k":1,"l":"N1","x":0,"y":10.2},
{"k":2,"l":"N2","x":0,"y":25},{"k":2,"l":"N2","x":3.26,"y":25},{"k":2,"l":"N2","x":3,"y":12.2},{"k":2,"l":"N2","x":1.41,"y":14.2},{"k":2,"l":"N2","x":0.34,"y":16.6},{"k":2,"l":"N2","x":0,"y":16.6},
{"k":3,"l":"N3","x":0,"y":25},{"k":3,"l":"N3","x":3.21,"y":25},{"k":3,"l":"N3","x":3.05,"y":16.2},{"k":3,"l":"N3","x":1.94,"y":18},{"k":3,"l":"N3","x":1.41,"y":20.1},{"k":3,"l":"N3","x":0,"y":20.9},
{"k":4,"l":"N4","x":0,"y":25},{"k":4,"l":"N4","x":3.16,"y":25},{"k":4,"l":"N4","x":2.86,"y":20.1},{"k":4,"l":"N4","x":1.41,"y":20.4},{"k":4,"l":"N4","x":1.14,"y":22.6},{"k":4,"l":"N4","x":0,"y":23.2},
{"k":5,"l":"N1","x":9.5,"y":25},{"k":5,"l":"N1","x":11,"y":25},{"k":5,"l":"N1","x":11,"y":10},{"k":5,"l":"N1","x":10.29,"y":10},{"k":5,"l":"N1","x":9.89,"y":18.2},
{"k":6,"l":"N2","x":9.68,"y":25},{"k":6,"l":"N2","x":11,"y":25},{"k":6,"l":"N2","x":11,"y":17.9},{"k":6,"l":"N2","x":9.95,"y":19.1},
{"k":7,"l":"N3","x":9.76,"y":25},{"k":7,"l":"N3","x":11,"y":25},{"k":7,"l":"N3","x":11,"y":19.1},{"k":7,"l":"N3","x":10.03,"y":20.8},
{"k":8,"l":"N4","x":9.89,"y":25},{"k":8,"l":"N4","x":11,"y":25},{"k":8,"l":"N4","x":11,"y":22.4},
{"k":9,"l":"Z","x":3.79,"y":25},{"k":9,"l":"Z","x":4.06,"y":10},
{"k":10,"l":"Z","x":9.23,"y":25},{"k":10,"l":"Z","x":9.28,"y":10},
{"k":11,"l":"P1","x":4.06,"y":25},{"k":11,"l":"P1","x":8.97,"y":25},{"k":11,"l":"P1","x":8.25,"y":10},{"k":11,"l":"P1","x":4.67,"y":10},
{"k":12,"l":"P2","x":4.19,"y":25},{"k":12,"l":"P2","x":8.7,"y":25},{"k":12,"l":"P2","x":7.9,"y":12.5},{"k":12,"l":"P2","x":6.98,"y":10.9},{"k":12,"l":"P2","x":6.05,"y":10.7},{"k":12,"l":"P2","x":4.99,"y":12.4},{"k":12,"l":"P2","x":4.46,"y":19},
{"k":13,"l":"P3","x":4.32,"y":25},{"k":13,"l":"P3","x":8.49,"y":25},{"k":13,"l":"P3","x":7.77,"y":15.3},{"k":13,"l":"P3","x":6.98,"y":13.9},{"k":13,"l":"P3","x":6.05,"y":14.2},{"k":13,"l":"P3","x":4.99,"y":16},{"k":13,"l":"P3","x":4.59,"y":20.8},
{"k":14,"l":"P4","x":4.54,"y":25},{"k":14,"l":"P4","x":8.3,"y":25},{"k":14,"l":"P4","x":7.77,"y":17.1},{"k":14,"l":"P4","x":6.98,"y":16.5},{"k":14,"l":"P4","x":6.05,"y":17.3},{"k":14,"l":"P4","x":4.99,"y":19},
{"k":15,"l":"P5","x":4.72,"y":25},{"k":15,"l":"P5","x":8.04,"y":25},{"k":15,"l":"P5","x":7.64,"y":19.3},{"k":15,"l":"P5","x":6.98,"y":18.8},{"k":15,"l":"P5","x":6.05,"y":20},{"k":15,"l":"P5","x":5.12,"y":20.8},
{"k":16,"l":"P6","x":4.85,"y":25},{"k":16,"l":"P6","x":7.77,"y":25},{"k":16,"l":"P6","x":7.51,"y":21.9},{"k":16,"l":"P6","x":6.98,"y":21.2},{"k":16,"l":"P6","x":6.05,"y":21.2},{"k":16,"l":"P6","x":5.25,"y":22.6}],
"l":[
{"k":1,"l":"G1","x":0,"y":25},{"k":1,"l":"G1","x":11,"y":25},{"k":1,"l":"G1","x":11,"y":10},{"k":1,"l":"G1","x":0,"y":10},
{"k":2,"l":"F1","x":0,"y":12.5},{"k":2,"l":"F1","x":1.01,"y":15.3},{"k":2,"l":"F1","x":1.94,"y":16.7},{"k":2,"l":"F1","x":3,"y":16.7},{"k":2,"l":"F1","x":3.4,"y":14.9},{"k":2,"l":"F1","x":3.79,"y":10},{"k":2,"l":"F1","x":0,"y":10},
{"k":3,"l":"F1","x":4.06,"y":25},{"k":3,"l":"F1","x":4.32,"y":19},{"k":3,"l":"F1","x":4.99,"y":16.2},{"k":3,"l":"F1","x":6.05,"y":16.1},{"k":3,"l":"F1","x":6.58,"y":13.8},{"k":3,"l":"F1","x":6.18,"y":10},{"k":3,"l":"F1","x":8.49,"y":10},{"k":3,"l":"F1","x":8.57,"y":13.5},{"k":3,"l":"F1","x":8.97,"y":16.6},{"k":3,"l":"F1","x":9.63,"y":20.1},{"k":3,"l":"F1","x":9.84,"y":25},
{"k":4,"l":"F1","x":10.16,"y":10},{"k":4,"l":"F1","x":10.16,"y":17.5},{"k":4,"l":"F1","x":10.56,"y":19.5},{"k":4,"l":"F1","x":11,"y":19.9},{"k":4,"l":"F1","x":11,"y":10},
{"k":5,"l":"G2","x":0,"y":25},{"k":5,"l":"G2","x":3.26,"y":25},{"k":5,"l":"G2","x":3.05,"y":21.2},{"k":5,"l":"G2","x":1.99,"y":22},{"k":5,"l":"G2","x":1.14,"y":20.1},{"k":5,"l":"G2","x":0,"y":17.7},
{"k":6,"l":"G3","x":0,"y":25},{"k":6,"l":"G3","x":1.54,"y":25},{"k":6,"l":"G3","x":0.88,"y":23},{"k":6,"l":"G3","x":0,"y":20.2},
{"k":7,"l":"N4","x":0,"y":25},{"k":7,"l":"N4","x":0.82,"y":25},{"k":7,"l":"N4","x":0,"y":22.6},
{"k":8,"l":"G2","x":3.93,"y":17.1},{"k":8,"l":"G2","x":4.3,"y":10},{"k":8,"l":"G2","x":3.95,"y":10},
{"k":9,"l":"G2","x":10.56,"y":25},{"k":9,"l":"G2","x":11,"y":25},{"k":9,"l":"G2","x":11,"y":23.5},
{"k":10,"l":"F2","x":4.46,"y":25},{"k":10,"l":"F2","x":4.99,"y":19.1},{"k":10,"l":"F2","x":5.92,"y":20.1},{"k":10,"l":"F2","x":6.98,"y":19.7},{"k":10,"l":"F2","x":7.9,"y":16.4},{"k":10,"l":"F2","x":9.1,"y":25},
{"k":11,"l":"P2","x":4.72,"y":25},{"k":11,"l":"P2","x":4.99,"y":22.1},{"k":11,"l":"P2","x":5.92,"y":22.6},{"k":11,"l":"P2","x":7.9,"y":23.2},{"k":11,"l":"P2","x":8.22,"y":25}],
"m":[
{"k":1,"l":"N1","x":0,"y":40},{"k":1,"l":"N1","x":3.58,"y":40},{"k":1,"l":"N1","x":3.18,"y":25.1},{"k":1,"l":"N1","x":1.99,"y":12},{"k":1,"l":"N1","x":1.2,"y":10},{"k":1,"l":"N1","x":0,"y":10},
{"k":2,"l":"N2","x":0,"y":40},{"k":2,"l":"N2","x":3.45,"y":40},{"k":2,"l":"N2","x":2.92,"y":25.1},{"k":2,"l":"N2","x":1.99,"y":16.5},{"k":2,"l":"N2","x":0.53,"y":10},{"k":2,"l":"N2","x":0,"y":10},
{"k":3,"l":"N3","x":0,"y":40},{"k":3,"l":"N3","x":3.4,"y":40},{"k":3,"l":"N3","x":2.79,"y":25.1},{"k":3,"l":"N3","x":1.99,"y":16.7},{"k":3,"l":"N3","x":0,"y":13.1},
{"k":4,"l":"N4","x":0,"y":40},{"k":4,"l":"N4","x":3.32,"y":40},{"k":4,"l":"N4","x":2.65,"y":25.8},{"k":4,"l":"N4","x":1.99,"y":20.1},{"k":4,"l":"N4","x":0,"y":17.1},
{"k":5,"l":"N5","x":0,"y":40},{"k":5,"l":"N5","x":3.1,"y":40},{"k":5,"l":"N5","x":2.12,"y":26.7},{"k":5,"l":"N5","x":0.93,"y":26.2},{"k":5,"l":"N5","x":0,"y":25.5},
{"k":6,"l":"N1","x":9.42,"y":40},{"k":6,"l":"N1","x":11,"y":40},{"k":6,"l":"N1","x":11,"y":10},{"k":6,"l":"N1","x":10.2,"y":10},
{"k":7,"l":"N2","x":9.55,"y":40},{"k":7,"l":"N2","x":11,"y":40},{"k":7,"l":"N2","x":11,"y":10},{"k":7,"l":"N2","x":10.85,"y":10},
{"k":8,"l":"N3","x":9.81,"y":40},{"k":8,"l":"N3","x":11,"y":40},{"k":8,"l":"N3","x":11,"y":18},
{"k":9,"l":"N4","x":9.95,"y":40},{"k":9,"l":"N4","x":11,"y":40},{"k":9,"l":"N4","x":11,"y":22},
{"k":10,"l":"N5","x":10.48,"y":40},{"k":10,"l":"N5","x":11,"y":40},{"k":10,"l":"N5","x":11,"y":32.4},
{"k":11,"l":"Z","x":3.98,"y":40},{"k":11,"l":"Z","x":3.85,"y":28.8},{"k":11,"l":"Z","x":3.18,"y":19.3},{"k":11,"l":"Z","x":2.12,"y":10},
{"k":12,"l":"Z","x":9.36,"y":40},{"k":12,"l":"Z","x":9.63,"y":10},
{"k":13,"l":"P1","x":4.06,"y":40},{"k":13,"l":"P1","x":9.02,"y":40},{"k":13,"l":"P1","x":9.28,"y":21.5},{"k":13,"l":"P1","x":9.15,"y":10},{"k":13,"l":"P1","x":7.16,"y":10},{"k":13,"l":"P1","x":5.97,"y":11.4},{"k":13,"l":"P1","x":5.7,"y":10},{"k":13,"l":"P1","x":3.53,"y":10},{"k":13,"l":"P1","x":3.85,"y":21.5},
{"k":14,"l":"P2","x":4.11,"y":40},{"k":14,"l":"P2","x":8.96,"y":40},{"k":14,"l":"P2","x":9.1,"y":21.5},{"k":14,"l":"P2","x":8.75,"y":15.3},{"k":14,"l":"P2","x":7.96,"y":12.7},{"k":14,"l":"P2","x":5.97,"y":15.8},{"k":14,"l":"P2","x":5.04,"y":12},{"k":14,"l":"P2","x":4.51,"y":19.3},{"k":14,"l":"P2","x":4.16,"y":28.8},
{"k":15,"l":"P3","x":4.24,"y":40},{"k":15,"l":"P3","x":8.83,"y":40},{"k":15,"l":"P3","x":8.88,"y":21.5},{"k":15,"l":"P3","x":7.96,"y":15.1},{"k":15,"l":"P3","x":5.97,"y":18.5},{"k":15,"l":"P3","x":4.91,"y":14.3},{"k":15,"l":"P3","x":4.64,"y":21.5},
{"k":16,"l":"P4","x":4.38,"y":40},{"k":16,"l":"P4","x":8.75,"y":40},{"k":16,"l":"P4","x":8.75,"y":21.5},{"k":16,"l":"P4","x":7.96,"y":17.2},{"k":16,"l":"P4","x":5.97,"y":19.3},{"k":16,"l":"P4","x":4.91,"y":16.2},{"k":16,"l":"P4","x":4.69,"y":24.4},
{"k":17,"l":"P5","x":4.51,"y":40},{"k":17,"l":"P5","x":8.62,"y":40},{"k":17,"l":"P5","x":8.62,"y":24.4},{"k":17,"l":"P5","x":7.96,"y":19.4},{"k":17,"l":"P5","x":5.84,"y":24},{"k":17,"l":"P5","x":4.82,"y":24.7},{"k":17,"l":"P5","x":4.64,"y":28.8},
{"k":18,"l":"P6","x":4.91,"y":40},{"k":18,"l":"P6","x":8.49,"y":40},{"k":18,"l":"P6","x":8.36,"y":22.9},{"k":18,"l":"P6","x":7.96,"y":20.1},{"k":18,"l":"P6","x":6.23,"y":23.6},{"k":18,"l":"P6","x":5.04,"y":26.9},{"k":18,"l":"P6","x":4.91,"y":32.4}],
"n":[
{"k":1,"l":"N1","x":0,"y":40},{"k":1,"l":"N1","x":3.79,"y":40},{"k":1,"l":"N1","x":4.06,"y":21.5},{"k":1,"l":"N1","x":4,"y":16},{"k":1,"l":"N1","x":3,"y":15},{"k":1,"l":"N1","x":2.07,"y":16.2},{"k":1,"l":"N1","x":0.61,"y":10},{"k":1,"l":"N1","x":0,"y":10},
{"k":2,"l":"N2","x":0,"y":40},{"k":2,"l":"N2","x":3.74,"y":40},{"k":2,"l":"N2","x":3.93,"y":22.9},{"k":2,"l":"N2","x":3,"y":19.5},{"k":2,"l":"N2","x":2.07,"y":20.2},{"k":2,"l":"N2","x":0.88,"y":16.7},{"k":2,"l":"N2","x":0,"y":13.4},
{"k":3,"l":"N3","x":0,"y":40},{"k":3,"l":"N3","x":3.66,"y":40},{"k":3,"l":"N3","x":3.74,"y":25.8},{"k":3,"l":"N3","x":3,"y":23.4},{"k":3,"l":"N3","x":2.07,"y":23.4},{"k":3,"l":"N3","x":1,"y":19.3},{"k":3,"l":"N3","x":0,"y":18.2},
{"k":4,"l":"N4","x":0,"y":40},{"k":4,"l":"N4","x":3.61,"y":40},{"k":4,"l":"N4","x":3.47,"y":28.8},{"k":4,"l":"N4","x":2.2,"y":26.2},{"k":4,"l":"N4","x":1,"y":22.9},{"k":4,"l":"N4","x":0,"y":22.6},
{"k":5,"l":"N5","x":0,"y":40},{"k":5,"l":"N5","x":3.53,"y":40},{"k":5,"l":"N5","x":3.13,"y":32.4},{"k":5,"l":"N5","x":1.94,"y":29.5},{"k":5,"l":"N5","x":0.88,"y":28.4},{"k":5,"l":"N5","x":0,"y":28.4},
{"k":6,"l":"N1","x":9.63,"y":40},{"k":6,"l":"N1","x":11,"y":40},{"k":6,"l":"N1","x":11,"y":10},{"k":6,"l":"N1","x":10.29,"y":10},
{"k":7,"l":"N2","x":9.76,"y":40},{"k":7,"l":"N2","x":11,"y":40},{"k":7,"l":"N2","x":11,"y":17},{"k":7,"l":"N2","x":10.8,"y":14.2},
{"k":8,"l":"N3","x":9.89,"y":40},{"k":8,"l":"N3","x":11,"y":40},{"k":8,"l":"N3","x":11,"y":22},
{"k":9,"l":"N4","x":10.03,"y":40},{"k":9,"l":"N4","x":11,"y":40},{"k":9,"l":"N4","x":11,"y":26},
{"k":10,"l":"N5","x":10.42,"y":40},{"k":10,"l":"N5","x":11,"y":40},{"k":10,"l":"N5","x":11,"y":34},
{"k":11,"l":"Z","x":4.19,"y":40},{"k":11,"l":"Z","x":4.5,"y":25},{"k":11,"l":"Z","x":4.32,"y":10},
{"k":12,"l":"Z","x":1.54,"y":10},{"k":12,"l":"Z","x":1.99,"y":11.8},{"k":12,"l":"Z","x":3,"y":10},
{"k":13,"l":"Z","x":9.58,"y":40},{"k":13,"l":"Z","x":9.76,"y":10},
{"k":14,"l":"P1","x":4.32,"y":40},{"k":14,"l":"P1","x":9.36,"y":40},{"k":14,"l":"P1","x":9.23,"y":17.1},{"k":14,"l":"P1","x":7.98,"y":10},{"k":14,"l":"P1","x":6.45,"y":12},{"k":14,"l":"P1","x":4.99,"y":17.4},{"k":14,"l":"P1","x":4.99,"y":22.2},
{"k":15,"l":"P2","x":4.46,"y":40},{"k":15,"l":"P2","x":9.23,"y":40},{"k":15,"l":"P2","x":8.97,"y":17.1},{"k":15,"l":"P2","x":7.98,"y":13},{"k":15,"l":"P2","x":6.18,"y":16.3},{"k":15,"l":"P2","x":4.99,"y":21.5},
{"k":16,"l":"P3","x":4.59,"y":40},{"k":16,"l":"P3","x":9.15,"y":40},{"k":16,"l":"P3","x":8.7,"y":18.5},{"k":16,"l":"P3","x":7.9,"y":15.6},{"k":16,"l":"P3","x":6.45,"y":18.2},{"k":16,"l":"P3","x":5.12,"y":23.6},
{"k":17,"l":"P4","x":4.67,"y":40},{"k":17,"l":"P4","x":9.04,"y":40},{"k":17,"l":"P4","x":8.57,"y":20},{"k":17,"l":"P4","x":7.96,"y":18.7},{"k":17,"l":"P4","x":6.45,"y":22.3},{"k":17,"l":"P4","x":4.99,"y":25.5},
{"k":18,"l":"P5","x":4.75,"y":40},{"k":18,"l":"P5","x":8.89,"y":40},{"k":18,"l":"P5","x":8.43,"y":22.9},{"k":18,"l":"P5","x":8.04,"y":20.9},{"k":18,"l":"P5","x":6.45,"y":24.4},{"k":18,"l":"P5","x":4.99,"y":28},
{"k":19,"l":"P6","x":4.9,"y":40},{"k":19,"l":"P6","x":8.62,"y":40},{"k":19,"l":"P6","x":8.04,"y":23.6},{"k":19,"l":"P6","x":7,"y":25.5},{"k":19,"l":"P6","x":5.12,"y":31}],
"o":[
{"k":1,"l":"G1","x":0,"y":40},{"k":1,"l":"G1","x":11,"y":40},{"k":1,"l":"G1","x":11,"y":10},{"k":1,"l":"G1","x":0,"y":10},
{"k":2,"l":"F1","x":0,"y":22.8},{"k":2,"l":"F1","x":0.99,"y":26.2},{"k":2,"l":"F1","x":1.64,"y":14.2},{"k":2,"l":"F1","x":1.46,"y":10},{"k":2,"l":"F1","x":0,"y":10},
{"k":3,"l":"F1","x":2.81,"y":10},{"k":3,"l":"F1","x":2.86,"y":17.1},{"k":3,"l":"F1","x":3.02,"y":17.8},{"k":3,"l":"F1","x":3.12,"y":12.7},{"k":3,"l":"F1","x":3.46,"y":10},
{"k":4,"l":"F1","x":3.98,"y":10},{"k":4,"l":"F1","x":5.03,"y":14.7},{"k":4,"l":"F1","x":5.94,"y":11.6},{"k":4,"l":"F1","x":6.72,"y":10.9},{"k":4,"l":"F1","x":7.11,"y":10},
{"k":5,"l":"F1","x":3.98,"y":40},{"k":5,"l":"F1","x":3.98,"y":35},{"k":5,"l":"F1","x":5.03,"y":36.4},{"k":5,"l":"F1","x":5.94,"y":39.7},{"k":5,"l":"F1","x":6.46,"y":35.7},{"k":5,"l":"F1","x":8.02,"y":28},{"k":5,"l":"F1","x":8.28,"y":13.4},{"k":5,"l":"F1","x":9.06,"y":11.2},{"k":5,"l":"F1","x":9.97,"y":13.6},{"k":5,"l":"F1","x":10.89,"y":10},{"k":5,"l":"F1","x":11,"y":10},{"k":5,"l":"F1","x":11,"y":40},
{"k":6,"l":"G2","x":0,"y":26.3},{"k":6,"l":"G2","x":1.04,"y":29.3},{"k":6,"l":"G2","x":2.03,"y":23.1},{"k":6,"l":"G2","x":3.07,"y":26.2},{"k":6,"l":"G2","x":3.98,"y":14.2},{"k":6,"l":"G2","x":4.9,"y":18.7},{"k":6,"l":"G2","x":5.94,"y":14.2},{"k":6,"l":"G2","x":7.11,"y":16.7},{"k":6,"l":"G2","x":7.63,"y":22.9},{"k":6,"l":"G2","x":7.5,"y":28},{"k":6,"l":"G2","x":5.99,"y":35.3},{"k":6,"l":"G2","x":5.03,"y":31.3},{"k":6,"l":"G2","x":3.98,"y":28.8},{"k":6,"l":"G2","x":3.54,"y":32.4},{"k":6,"l":"G2","x":3.59,"y":40},{"k":6,"l":"G2","x":0,"y":40},
{"k":7,"l":"G3","x":0,"y":40},{"k":7,"l":"G3","x":3.46,"y":40},{"k":7,"l":"G3","x":3.07,"y":36},{"k":7,"l":"G3","x":2.08,"y":28.4},{"k":7,"l":"G3","x":1.04,"y":31.3},{"k":7,"l":"G3","x":0,"y":28.9},
{"k":8,"l":"G3","x":5.99,"y":28.5},{"k":8,"l":"G3","x":7.03,"y":24.4},{"k":8,"l":"G3","x":5.99,"y":17.4},{"k":8,"l":"G3","x":5.29,"y":22.9},{"k":8,"l":"G3","x":5.99,"y":28.5},
{"k":9,"l":"N4","x":0,"y":40},{"k":9,"l":"N4","x":3.13,"y":40},{"k":9,"l":"N4","x":3.02,"y":36},{"k":9,"l":"N4","x":2.03,"y":32},{"k":9,"l":"N4","x":1.04,"y":34},{"k":9,"l":"N4","x":0,"y":31.3},
{"k":10,"l":"F2","x":6.46,"y":40},{"k":10,"l":"F2","x":8.02,"y":36},{"k":10,"l":"F2","x":8.54,"y":19.3},{"k":10,"l":"F2","x":9.01,"y":15},{"k":10,"l":"F2","x":9.97,"y":16.5},{"k":10,"l":"F2","x":11,"y":15.3},{"k":10,"l":"F2","x":11,"y":40},
{"k":11,"l":"P2","x":6.77,"y":40},{"k":11,"l":"P2","x":8.15,"y":33.9},{"k":11,"l":"P2","x":8.8,"y":17.8},{"k":11,"l":"P2","x":9.97,"y":19.3},{"k":11,"l":"P2","x":11,"y":20},{"k":11,"l":"P2","x":11,"y":40},
{"k":12,"l":"P4","x":7.11,"y":40},{"k":12,"l":"P4","x":8.33,"y":34.2},{"k":12,"l":"P4","x":9,"y":21.1},{"k":12,"l":"P4","x":10.1,"y":22.2},{"k":12,"l":"P4","x":10.85,"y":30},{"k":12,"l":"P4","x":10.6,"y":40},
{"k":13,"l":"P5","x":7.5,"y":40},{"k":13,"l":"P5","x":8.67,"y":31},{"k":13,"l":"P5","x":9,"y":24},{"k":13,"l":"P5","x":10.1,"y":25.1},{"k":13,"l":"P5","x":10.49,"y":33.9},{"k":13,"l":"P5","x":10.23,"y":40},
{"k":14,"l":"P6","x":7.97,"y":40},{"k":14,"l":"P6","x":8.93,"y":33.9},{"k":14,"l":"P6","x":9,"y":27.9},{"k":14,"l":"P6","x":10.03,"y":29.5},{"k":14,"l":"P6","x":10.23,"y":35.4},{"k":14,"l":"P6","x":9.97,"y":40}],
"bar":[{"l":"P5","x":378,"x2":387,"y":2.5,"y2":3},{"l":"P4","x":378,"x2":387,"y":2,"y2":2.5},{"l":"P3","x":378,"x2":387,"y":1.5,"y2":2},{"l":"P2","x":378,"x2":387,"y":1,"y2":1.5},{"l":"P1","x":378,"x2":387,"y":0.5,"y2":1},{"l":"N1","x":378,"x2":387,"y":-1,"y2":-0.5},{"l":"N2","x":378,"x2":387,"y":-1.5,"y2":-1},{"l":"N3","x":378,"x2":387,"y":-2,"y2":-1.5},{"l":"N4","x":378,"x2":387,"y":-3,"y2":-2},{"l":"P5","x":650,"x2":659,"y":2.5,"y2":3},{"l":"P4","x":650,"x2":659,"y":2,"y2":2.5},{"l":"P3","x":650,"x2":659,"y":1.5,"y2":2},{"l":"P2","x":650,"x2":659,"y":1,"y2":1.5},{"l":"P1","x":650,"x2":659,"y":0.5,"y2":1},{"l":"N1","x":650,"x2":659,"y":-1,"y2":-0.5},{"l":"N2","x":650,"x2":659,"y":-1.5,"y2":-1},{"l":"N3","x":650,"x2":659,"y":-2,"y2":-1.5},{"l":"N4","x":650,"x2":659,"y":-3,"y2":-2}],
"tip":[{"k":1,"l":"P6","x":378,"y":3},{"k":1,"l":"P6","x":382.5,"y":3.5},{"k":1,"l":"P6","x":387,"y":3},{"k":2,"l":"N5","x":378,"y":-3},{"k":2,"l":"N5","x":382.5,"y":-3.5},{"k":2,"l":"N5","x":387,"y":-3},{"k":3,"l":"P6","x":650,"y":3},{"k":3,"l":"P6","x":654.5,"y":3.5},{"k":3,"l":"P6","x":659,"y":3},{"k":4,"l":"N5","x":650,"y":-3},{"k":4,"l":"N5","x":654.5,"y":-3.5},{"k":4,"l":"N5","x":659,"y":-3}],
"barTxt":[{"t":"3","x":398,"y":3},{"t":"2","x":398,"y":2},{"t":"1","x":398,"y":1},{"t":"0","x":398,"y":0},{"t":"-1","x":397,"y":-1},{"t":"-2","x":397,"y":-2},{"t":"-3","x":397,"y":-3},{"t":"1","x":672,"y":3},{"t":".5","x":672,"y":2},{"t":".25","x":672,"y":1},{"t":"0","x":672,"y":0},{"t":"-.25","x":672,"y":-1},{"t":"-.5","x":672,"y":-2},{"t":"-1","x":672,"y":-3}],
"arrows":[{"x":351,"y":105,"y2":157,"h":165,"a":180},{"x":351,"y":357,"y2":295,"h":295,"a":0},{"x":351,"y":542,"y2":480,"h":480,"a":0},{"x":351,"y":740,"y2":678,"h":678,"a":0},{"x":351,"y":921,"y2":859,"h":859,"a":0}],
"rows":[{"t":"Australia","x":11,"y":145},{"t":"East Africa","x":11,"y":320},{"t":"East Asia","x":11,"y":510},{"t":"Southeast Asia","x":11,"y":700},{"t":"North America","x":11,"y":886}],
"head1":[{"t":"Zonally Averaged Upper Tropospheric (500mb to 200mb) Temperatures","x":327,"y":12},{"t":"Kelvin","x":383,"y":346},{"t":"Kelvin","x":655,"y":346}],
"head2":[{"t":"Historical Comparison (1995 to 2014)","x":175,"y":34},{"t":"Future Changes (2080 to 2099)","x":516,"y":34},{"t":"ERA5","x":75,"y":53},{"t":"RegCM","x":257,"y":53},{"t":"RegCM","x":518,"y":53}]
},
"resolve":{"scale":{"x":"independent","y":"independent"}},
"layer":[
{"layer":[
{"data":{"name":"bar"},"mark":{"type":"rect"},"encoding":{"x":{"field":"x","type":"quantitative","scale":{"domain":[0,685],"nice":false},"axis":null},"x2":{"field":"x2"},"y":{"field":"y","type":"quantitative","scale":{"domain":[-3.5,3.5],"range":[642,357],"nice":false},"axis":null},"y2":{"field":"y2"},"fill":{"field":"l","type":"nominal","legend":null,"scale":{"domain":["F1","F2","G1","G2","G3","N1","N2","N3","N4","N5","P1","P2","P3","P4","P5","P6","Z"],"range":["#fffbef","#f9e553","#f1f9ef","#6ecf50","#2f8a5c","#90df7e","#3fb50f","#1a5f8a","#452d9b","#6a12a0","#f8f197","#f9df35","#fdcb2a","#fba61a","#e8600a","#b81e10","transparent"]}}}},
{"data":{"name":"tip"},"mark":{"type":"line","order":false,"strokeWidth":0},"encoding":{"x":{"field":"x","type":"quantitative"},"y":{"field":"y","type":"quantitative"},"detail":{"field":"k","type":"nominal"},"fill":{"field":"l","type":"nominal","legend":null}}},
{"data":{"name":"barTxt"},"mark":{"type":"text","fontSize":16},"encoding":{"x":{"field":"x","type":"quantitative"},"y":{"field":"y","type":"quantitative"},"text":{"field":"t"}}}]},
{"layer":[
{"data":{"name":"head1"},"mark":{"type":"text","fontSize":17},"encoding":{"x":{"field":"x","type":"quantitative","scale":{"domain":[0,685],"nice":false},"axis":null},"y":{"field":"y","type":"quantitative","scale":{"domain":[974,0],"nice":false},"axis":null},"text":{"field":"t"}}},
{"data":{"name":"head2"},"mark":{"type":"text","fontSize":15},"encoding":{"x":{"field":"x","type":"quantitative"},"y":{"field":"y","type":"quantitative"},"text":{"field":"t"}}},
{"data":{"name":"rows"},"mark":{"type":"text","fontSize":16,"angle":270},"encoding":{"x":{"field":"x","type":"quantitative"},"y":{"field":"y","type":"quantitative"},"text":{"field":"t"}}},
{"data":{"name":"arrows"},"mark":{"type":"rule","strokeWidth":1.5,"color":"#111","strokeDash":[9,8]},"encoding":{"x":{"field":"x","type":"quantitative"},"y":{"field":"y","type":"quantitative"},"y2":{"field":"y2"}}},
{"data":{"name":"arrows"},"mark":{"type":"point","shape":"M0,-1L1,1L0,0.5L-1,1Z","filled":true,"color":"#111","size":200,"opacity":1},"encoding":{"x":{"field":"x","type":"quantitative"},"y":{"field":"h","type":"quantitative"},"angle":{"field":"a","type":"quantitative","scale":null}}}]},
{"layer":[{"data":{"name":"a"},"mark":{"type":"line","order":false,"strokeWidth":0.7},"encoding":{"x":{"field":"x","type":"quantitative","scale":{"domain":[0,11],"range":[18,156.5],"nice":false},"axis":{"orient":"bottom","offset":-765,"values":[0,1,2,3,4,5,6,7,8,9,10,11],"labelExpr":"datum.value%2?'':['Jul','Sep','Nov','Jan','Mar','May'][datum.value/2]","encode":{"ticks":{"update":{"y2":{"signal":"datum.value%2==0?4:2"}}}}}},"y":{"field":"y","type":"quantitative","scale":{"domain":[-20,0],"range":[209,72],"nice":false,"zero":false},"axis":{"orient":"right","offset":-528.5,"values":[0,-1,-2,-3,-4,-5,-6,-7,-8,-9,-10,-11,-12,-13,-14,-15,-16,-17,-18,-19,-20],"labelAlign":"right","labelPadding":27,"labelExpr":"datum.value%5?'':datum.value==0?'0':(-datum.value)+'S'","encode":{"ticks":{"update":{"x2":{"signal":"datum.value%5==0?5:2"}}}}}},"detail":{"field":"k","type":"nominal"},"fill":{"field":"l","type":"nominal","legend":null},"stroke":{"condition":[{"test":"test(/^P|F2/,datum.l)","value":"#e8643c"},{"test":"test(/^N|G2|G3/,datum.l)","value":"#6b6fa8"}],"value":"#777"},"strokeDash":{"condition":{"test":"test(/^N|G2|G3/,datum.l)","value":[3,2]},"value":[1,0]}}},{"data":{"name":"notes"},"transform":[{"filter":"datum.p=='a'"}],"mark":{"type":"rule","color":"#b5b5b5","strokeWidth":3,"strokeDash":[9,7]},"encoding":{"x":{"field":"d","type":"quantitative"},"y":{"field":"y0","type":"quantitative"},"y2":{"field":"y1"}}},{"data":{"name":"notes"},"transform":[{"filter":"datum.p=='a'"}],"mark":{"type":"text","fontSize":24},"encoding":{"x":{"field":"x","type":"quantitative"},"y":{"field":"y","type":"quantitative"},"text":{"field":"t"}}},{"data":{"name":"notes"},"transform":[{"filter":"datum.p=='a'"}],"mark":{"type":"rect","fill":null,"stroke":"#555","strokeWidth":1},"encoding":{"x":{"field":"x0","type":"quantitative"},"x2":{"field":"x1"},"y":{"field":"y0","type":"quantitative"},"y2":{"field":"y1"}}}]},
{"layer":[{"data":{"name":"b"},"mark":{"type":"line","order":false,"strokeWidth":0.7},"encoding":{"x":{"field":"x","type":"quantitative","scale":{"domain":[0,11],"range":[199,337],"nice":false},"axis":{"orient":"bottom","offset":-765,"values":[0,1,2,3,4,5,6,7,8,9,10,11],"labelExpr":"datum.value%2?'':['Jul','Sep','Nov','Jan','Mar','May'][datum.value/2]","encode":{"ticks":{"update":{"y2":{"signal":"datum.value%2==0?4:2"}}}}}},"y":{"field":"y","type":"quantitative","scale":{"domain":[-20,0],"range":[209,72],"nice":false,"zero":false},"axis":null},"detail":{"field":"k","type":"nominal"},"fill":{"field":"l","type":"nominal","legend":null},"stroke":{"condition":[{"test":"test(/^P|F2/,datum.l)","value":"#e8643c"},{"test":"test(/^N|G2|G3/,datum.l)","value":"#6b6fa8"}],"value":"#777"},"strokeDash":{"condition":{"test":"test(/^N|G2|G3/,datum.l)","value":[3,2]},"value":[1,0]}}},{"data":{"name":"notes"},"transform":[{"filter":"datum.p=='b'"}],"mark":{"type":"rule","color":"#b5b5b5","strokeWidth":3,"strokeDash":[9,7]},"encoding":{"x":{"field":"d","type":"quantitative"},"y":{"field":"y0","type":"quantitative"},"y2":{"field":"y1"}}},{"data":{"name":"notes"},"transform":[{"filter":"datum.p=='b'"}],"mark":{"type":"text","fontSize":24},"encoding":{"x":{"field":"x","type":"quantitative"},"y":{"field":"y","type":"quantitative"},"text":{"field":"t"}}},{"data":{"name":"notes"},"transform":[{"filter":"datum.p=='b'"}],"mark":{"type":"rect","fill":null,"stroke":"#555","strokeWidth":1},"encoding":{"x":{"field":"x0","type":"quantitative"},"x2":{"field":"x1"},"y":{"field":"y0","type":"quantitative"},"y2":{"field":"y1"}}}]},
{"layer":[{"data":{"name":"c"},"mark":{"type":"line","order":false,"strokeWidth":0.7},"encoding":{"x":{"field":"x","type":"quantitative","scale":{"domain":[0,11],"range":[459,597],"nice":false},"axis":{"orient":"bottom","offset":-765,"values":[0,1,2,3,4,5,6,7,8,9,10,11],"labelExpr":"datum.value%2?'':['Jul','Sep','Nov','Jan','Mar','May'][datum.value/2]","encode":{"ticks":{"update":{"y2":{"signal":"datum.value%2==0?4:2"}}}}}},"y":{"field":"y","type":"quantitative","scale":{"domain":[-20,0],"range":[209,72],"nice":false,"zero":false},"axis":{"orient":"right","offset":-88,"values":[0,-1,-2,-3,-4,-5,-6,-7,-8,-9,-10,-11,-12,-13,-14,-15,-16,-17,-18,-19,-20],"labelAlign":"left","labelPadding":4,"labelExpr":"datum.value%5?'':datum.value==0?'0':(-datum.value)+'S'","encode":{"ticks":{"update":{"x2":{"signal":"datum.value%5==0?5:2"}}}}}},"detail":{"field":"k","type":"nominal"},"fill":{"field":"l","type":"nominal","legend":null},"stroke":{"condition":[{"test":"test(/^P|F2/,datum.l)","value":"#e8643c"},{"test":"test(/^N|G2|G3/,datum.l)","value":"#6b6fa8"}],"value":"#777"},"strokeDash":{"condition":{"test":"test(/^N|G2|G3/,datum.l)","value":[3,2]},"value":[1,0]}}},{"data":{"name":"notes"},"transform":[{"filter":"datum.p=='c'"}],"mark":{"type":"rule","color":"#b5b5b5","strokeWidth":3,"strokeDash":[9,7]},"encoding":{"x":{"field":"d","type":"quantitative"},"y":{"field":"y0","type":"quantitative"},"y2":{"field":"y1"}}},{"data":{"name":"notes"},"transform":[{"filter":"datum.p=='c'"}],"mark":{"type":"text","fontSize":24},"encoding":{"x":{"field":"x","type":"quantitative"},"y":{"field":"y","type":"quantitative"},"text":{"field":"t"}}},{"data":{"name":"notes"},"transform":[{"filter":"datum.p=='c'"}],"mark":{"type":"rect","fill":null,"stroke":"#555","strokeWidth":1},"encoding":{"x":{"field":"x0","type":"quantitative"},"x2":{"field":"x1"},"y":{"field":"y0","type":"quantitative"},"y2":{"field":"y1"}}}]},
{"layer":[{"data":{"name":"d"},"mark":{"type":"line","order":false,"strokeWidth":0.7},"encoding":{"x":{"field":"x","type":"quantitative","scale":{"domain":[0,11],"range":[18,156.5],"nice":false},"axis":{"orient":"bottom","offset":-588,"values":[0,1,2,3,4,5,6,7,8,9,10,11],"labelExpr":"datum.value%2?'':['Jan','Mar','May','Jul','Sep','Nov'][datum.value/2]","encode":{"ticks":{"update":{"y2":{"signal":"datum.value%2==0?4:2"}}}}}},"y":{"field":"y","type":"quantitative","scale":{"domain":[2,20],"range":[386,249],"nice":false,"zero":false},"axis":{"orient":"right","offset":-528.5,"values":[2,3,4,5,6,7,8,9,10,11,12,13,14,15,16,17,18,19,20],"labelAlign":"right","labelPadding":27,"labelExpr":"datum.value%5?'':datum.value+'N'","encode":{"ticks":{"update":{"x2":{"signal":"datum.value%5==0?5:2"}}}}}},"detail":{"field":"k","type":"nominal"},"fill":{"field":"l","type":"nominal","legend":null},"stroke":{"condition":[{"test":"test(/^P|F2/,datum.l)","value":"#e8643c"},{"test":"test(/^N|G2|G3/,datum.l)","value":"#6b6fa8"}],"value":"#777"},"strokeDash":{"condition":{"test":"test(/^N|G2|G3/,datum.l)","value":[3,2]},"value":[1,0]}}},{"data":{"name":"notes"},"transform":[{"filter":"datum.p=='d'"}],"mark":{"type":"rule","color":"#b5b5b5","strokeWidth":3,"strokeDash":[9,7]},"encoding":{"x":{"field":"d","type":"quantitative"},"y":{"field":"y0","type":"quantitative"},"y2":{"field":"y1"}}},{"data":{"name":"notes"},"transform":[{"filter":"datum.p=='d'"}],"mark":{"type":"text","fontSize":24},"encoding":{"x":{"field":"x","type":"quantitative"},"y":{"field":"y","type":"quantitative"},"text":{"field":"t"}}},{"data":{"name":"notes"},"transform":[{"filter":"datum.p=='d'"}],"mark":{"type":"rect","fill":null,"stroke":"#555","strokeWidth":1},"encoding":{"x":{"field":"x0","type":"quantitative"},"x2":{"field":"x1"},"y":{"field":"y0","type":"quantitative"},"y2":{"field":"y1"}}}]},
{"layer":[{"data":{"name":"e"},"mark":{"type":"line","order":false,"strokeWidth":0.7},"encoding":{"x":{"field":"x","type":"quantitative","scale":{"domain":[0,11],"range":[199,337],"nice":false},"axis":{"orient":"bottom","offset":-588,"values":[0,1,2,3,4,5,6,7,8,9,10,11],"labelExpr":"datum.value%2?'':['Jan','Mar','May','Jul','Sep','Nov'][datum.value/2]","encode":{"ticks":{"update":{"y2":{"signal":"datum.value%2==0?4:2"}}}}}},"y":{"field":"y","type":"quantitative","scale":{"domain":[2,20],"range":[386,249],"nice":false,"zero":false},"axis":null},"detail":{"field":"k","type":"nominal"},"fill":{"field":"l","type":"nominal","legend":null},"stroke":{"condition":[{"test":"test(/^P|F2/,datum.l)","value":"#e8643c"},{"test":"test(/^N|G2|G3/,datum.l)","value":"#6b6fa8"}],"value":"#777"},"strokeDash":{"condition":{"test":"test(/^N|G2|G3/,datum.l)","value":[3,2]},"value":[1,0]}}},{"data":{"name":"notes"},"transform":[{"filter":"datum.p=='e'"}],"mark":{"type":"rule","color":"#b5b5b5","strokeWidth":3,"strokeDash":[9,7]},"encoding":{"x":{"field":"d","type":"quantitative"},"y":{"field":"y0","type":"quantitative"},"y2":{"field":"y1"}}},{"data":{"name":"notes"},"transform":[{"filter":"datum.p=='e'"}],"mark":{"type":"text","fontSize":24},"encoding":{"x":{"field":"x","type":"quantitative"},"y":{"field":"y","type":"quantitative"},"text":{"field":"t"}}},{"data":{"name":"notes"},"transform":[{"filter":"datum.p=='e'"}],"mark":{"type":"rect","fill":null,"stroke":"#555","strokeWidth":1},"encoding":{"x":{"field":"x0","type":"quantitative"},"x2":{"field":"x1"},"y":{"field":"y0","type":"quantitative"},"y2":{"field":"y1"}}}]},
{"layer":[{"data":{"name":"f"},"mark":{"type":"line","order":false,"strokeWidth":0.7},"encoding":{"x":{"field":"x","type":"quantitative","scale":{"domain":[0,11],"range":[459,597],"nice":false},"axis":{"orient":"bottom","offset":-588,"values":[0,1,2,3,4,5,6,7,8,9,10,11],"labelExpr":"datum.value%2?'':['Jan','Mar','May','Jul','Sep','Nov'][datum.value/2]","encode":{"ticks":{"update":{"y2":{"signal":"datum.value%2==0?4:2"}}}}}},"y":{"field":"y","type":"quantitative","scale":{"domain":[2,20],"range":[386,249],"nice":false,"zero":false},"axis":{"orient":"right","offset":-88,"values":[2,3,4,5,6,7,8,9,10,11,12,13,14,15,16,17,18,19,20],"labelAlign":"left","labelPadding":4,"labelExpr":"datum.value%5?'':datum.value+'N'","encode":{"ticks":{"update":{"x2":{"signal":"datum.value%5==0?5:2"}}}}}},"detail":{"field":"k","type":"nominal"},"fill":{"field":"l","type":"nominal","legend":null},"stroke":{"condition":[{"test":"test(/^P|F2/,datum.l)","value":"#e8643c"},{"test":"test(/^N|G2|G3/,datum.l)","value":"#6b6fa8"}],"value":"#777"},"strokeDash":{"condition":{"test":"test(/^N|G2|G3/,datum.l)","value":[3,2]},"value":[1,0]}}},{"data":{"name":"notes"},"transform":[{"filter":"datum.p=='f'"}],"mark":{"type":"rule","color":"#b5b5b5","strokeWidth":3,"strokeDash":[9,7]},"encoding":{"x":{"field":"d","type":"quantitative"},"y":{"field":"y0","type":"quantitative"},"y2":{"field":"y1"}}},{"data":{"name":"notes"},"transform":[{"filter":"datum.p=='f'"}],"mark":{"type":"text","fontSize":24},"encoding":{"x":{"field":"x","type":"quantitative"},"y":{"field":"y","type":"quantitative"},"text":{"field":"t"}}},{"data":{"name":"notes"},"transform":[{"filter":"datum.p=='f'"}],"mark":{"type":"rect","fill":null,"stroke":"#555","strokeWidth":1},"encoding":{"x":{"field":"x0","type":"quantitative"},"x2":{"field":"x1"},"y":{"field":"y0","type":"quantitative"},"y2":{"field":"y1"}}}]},
{"layer":[{"data":{"name":"g"},"mark":{"type":"line","order":false,"strokeWidth":0.7},"encoding":{"x":{"field":"x","type":"quantitative","scale":{"domain":[0,11],"range":[18,156.5],"nice":false},"axis":{"orient":"bottom","offset":-399,"values":[0,1,2,3,4,5,6,7,8,9,10,11],"labelExpr":"datum.value%2?'':['Jan','Mar','May','Jul','Sep','Nov'][datum.value/2]","encode":{"ticks":{"update":{"y2":{"signal":"datum.value%2==0?4:2"}}}}}},"y":{"field":"y","type":"quantitative","scale":{"domain":[10,40],"range":[575,438],"nice":false,"zero":false},"axis":{"orient":"right","offset":-528.5,"values":[10,12,14,16,18,20,22,24,26,28,30,32,34,36,38,40],"labelAlign":"right","labelPadding":27,"labelExpr":"datum.value%10?'':datum.value+'N'","encode":{"ticks":{"update":{"x2":{"signal":"datum.value%10==0?5:2"}}}}}},"detail":{"field":"k","type":"nominal"},"fill":{"field":"l","type":"nominal","legend":null},"stroke":{"condition":[{"test":"test(/^P|F2/,datum.l)","value":"#e8643c"},{"test":"test(/^N|G2|G3/,datum.l)","value":"#6b6fa8"}],"value":"#777"},"strokeDash":{"condition":{"test":"test(/^N|G2|G3/,datum.l)","value":[3,2]},"value":[1,0]}}},{"data":{"name":"notes"},"transform":[{"filter":"datum.p=='g'"}],"mark":{"type":"rule","color":"#b5b5b5","strokeWidth":3,"strokeDash":[9,7]},"encoding":{"x":{"field":"d","type":"quantitative"},"y":{"field":"y0","type":"quantitative"},"y2":{"field":"y1"}}},{"data":{"name":"notes"},"transform":[{"filter":"datum.p=='g'"}],"mark":{"type":"text","fontSize":24},"encoding":{"x":{"field":"x","type":"quantitative"},"y":{"field":"y","type":"quantitative"},"text":{"field":"t"}}},{"data":{"name":"notes"},"transform":[{"filter":"datum.p=='g'"}],"mark":{"type":"rect","fill":null,"stroke":"#555","strokeWidth":1},"encoding":{"x":{"field":"x0","type":"quantitative"},"x2":{"field":"x1"},"y":{"field":"y0","type":"quantitative"},"y2":{"field":"y1"}}}]},
{"layer":[{"data":{"name":"h"},"mark":{"type":"line","order":false,"strokeWidth":0.7},"encoding":{"x":{"field":"x","type":"quantitative","scale":{"domain":[0,11],"range":[199,337],"nice":false},"axis":{"orient":"bottom","offset":-399,"values":[0,1,2,3,4,5,6,7,8,9,10,11],"labelExpr":"datum.value%2?'':['Jan','Mar','May','Jul','Sep','Nov'][datum.value/2]","encode":{"ticks":{"update":{"y2":{"signal":"datum.value%2==0?4:2"}}}}}},"y":{"field":"y","type":"quantitative","scale":{"domain":[10,40],"range":[575,438],"nice":false,"zero":false},"axis":null},"detail":{"field":"k","type":"nominal"},"fill":{"field":"l","type":"nominal","legend":null},"stroke":{"condition":[{"test":"test(/^P|F2/,datum.l)","value":"#e8643c"},{"test":"test(/^N|G2|G3/,datum.l)","value":"#6b6fa8"}],"value":"#777"},"strokeDash":{"condition":{"test":"test(/^N|G2|G3/,datum.l)","value":[3,2]},"value":[1,0]}}},{"data":{"name":"notes"},"transform":[{"filter":"datum.p=='h'"}],"mark":{"type":"rule","color":"#b5b5b5","strokeWidth":3,"strokeDash":[9,7]},"encoding":{"x":{"field":"d","type":"quantitative"},"y":{"field":"y0","type":"quantitative"},"y2":{"field":"y1"}}},{"data":{"name":"notes"},"transform":[{"filter":"datum.p=='h'"}],"mark":{"type":"text","fontSize":24},"encoding":{"x":{"field":"x","type":"quantitative"},"y":{"field":"y","type":"quantitative"},"text":{"field":"t"}}},{"data":{"name":"notes"},"transform":[{"filter":"datum.p=='h'"}],"mark":{"type":"rect","fill":null,"stroke":"#555","strokeWidth":1},"encoding":{"x":{"field":"x0","type":"quantitative"},"x2":{"field":"x1"},"y":{"field":"y0","type":"quantitative"},"y2":{"field":"y1"}}}]},
{"layer":[{"data":{"name":"i"},"mark":{"type":"line","order":false,"strokeWidth":0.7},"encoding":{"x":{"field":"x","type":"quantitative","scale":{"domain":[0,11],"range":[459,597],"nice":false},"axis":{"orient":"bottom","offset":-399,"values":[0,1,2,3,4,5,6,7,8,9,10,11],"labelExpr":"datum.value%2?'':['Jan','Mar','May','Jul','Sep','Nov'][datum.value/2]","encode":{"ticks":{"update":{"y2":{"signal":"datum.value%2==0?4:2"}}}}}},"y":{"field":"y","type":"quantitative","scale":{"domain":[10,40],"range":[575,438],"nice":false,"zero":false},"axis":{"orient":"right","offset":-88,"values":[10,12,14,16,18,20,22,24,26,28,30,32,34,36,38,40],"labelAlign":"left","labelPadding":4,"labelExpr":"datum.value%10?'':datum.value+'N'","encode":{"ticks":{"update":{"x2":{"signal":"datum.value%10==0?5:2"}}}}}},"detail":{"field":"k","type":"nominal"},"fill":{"field":"l","type":"nominal","legend":null},"stroke":{"condition":[{"test":"test(/^P|F2/,datum.l)","value":"#e8643c"},{"test":"test(/^N|G2|G3/,datum.l)","value":"#6b6fa8"}],"value":"#777"},"strokeDash":{"condition":{"test":"test(/^N|G2|G3/,datum.l)","value":[3,2]},"value":[1,0]}}},{"data":{"name":"notes"},"transform":[{"filter":"datum.p=='i'"}],"mark":{"type":"rule","color":"#b5b5b5","strokeWidth":3,"strokeDash":[9,7]},"encoding":{"x":{"field":"d","type":"quantitative"},"y":{"field":"y0","type":"quantitative"},"y2":{"field":"y1"}}},{"data":{"name":"notes"},"transform":[{"filter":"datum.p=='i'"}],"mark":{"type":"text","fontSize":24},"encoding":{"x":{"field":"x","type":"quantitative"},"y":{"field":"y","type":"quantitative"},"text":{"field":"t"}}},{"data":{"name":"notes"},"transform":[{"filter":"datum.p=='i'"}],"mark":{"type":"rect","fill":null,"stroke":"#555","strokeWidth":1},"encoding":{"x":{"field":"x0","type":"quantitative"},"x2":{"field":"x1"},"y":{"field":"y0","type":"quantitative"},"y2":{"field":"y1"}}}]},
{"layer":[{"data":{"name":"j"},"mark":{"type":"line","order":false,"strokeWidth":0.7},"encoding":{"x":{"field":"x","type":"quantitative","scale":{"domain":[0,11],"range":[18,156.5],"nice":false},"axis":{"orient":"bottom","offset":-211,"values":[0,1,2,3,4,5,6,7,8,9,10,11],"labelExpr":"datum.value%2?'':['Jan','Mar','May','Jul','Sep','Nov'][datum.value/2]","encode":{"ticks":{"update":{"y2":{"signal":"datum.value%2==0?4:2"}}}}}},"y":{"field":"y","type":"quantitative","scale":{"domain":[10,25],"range":[763,627],"nice":false,"zero":false},"axis":{"orient":"right","offset":-528.5,"values":[10,11,12,13,14,15,16,17,18,19,20,21,22,23,24,25],"labelAlign":"right","labelPadding":27,"labelExpr":"datum.value%5?'':datum.value+'N'","encode":{"ticks":{"update":{"x2":{"signal":"datum.value%5==0?5:2"}}}}}},"detail":{"field":"k","type":"nominal"},"fill":{"field":"l","type":"nominal","legend":null},"stroke":{"condition":[{"test":"test(/^P|F2/,datum.l)","value":"#e8643c"},{"test":"test(/^N|G2|G3/,datum.l)","value":"#6b6fa8"}],"value":"#777"},"strokeDash":{"condition":{"test":"test(/^N|G2|G3/,datum.l)","value":[3,2]},"value":[1,0]}}},{"data":{"name":"notes"},"transform":[{"filter":"datum.p=='j'"}],"mark":{"type":"rule","color":"#b5b5b5","strokeWidth":3,"strokeDash":[9,7]},"encoding":{"x":{"field":"d","type":"quantitative"},"y":{"field":"y0","type":"quantitative"},"y2":{"field":"y1"}}},{"data":{"name":"notes"},"transform":[{"filter":"datum.p=='j'"}],"mark":{"type":"text","fontSize":24},"encoding":{"x":{"field":"x","type":"quantitative"},"y":{"field":"y","type":"quantitative"},"text":{"field":"t"}}},{"data":{"name":"notes"},"transform":[{"filter":"datum.p=='j'"}],"mark":{"type":"rect","fill":null,"stroke":"#555","strokeWidth":1},"encoding":{"x":{"field":"x0","type":"quantitative"},"x2":{"field":"x1"},"y":{"field":"y0","type":"quantitative"},"y2":{"field":"y1"}}}]},
{"layer":[{"data":{"name":"k"},"mark":{"type":"line","order":false,"strokeWidth":0.7},"encoding":{"x":{"field":"x","type":"quantitative","scale":{"domain":[0,11],"range":[199,337],"nice":false},"axis":{"orient":"bottom","offset":-211,"values":[0,1,2,3,4,5,6,7,8,9,10,11],"labelExpr":"datum.value%2?'':['Jan','Mar','May','Jul','Sep','Nov'][datum.value/2]","encode":{"ticks":{"update":{"y2":{"signal":"datum.value%2==0?4:2"}}}}}},"y":{"field":"y","type":"quantitative","scale":{"domain":[10,25],"range":[763,627],"nice":false,"zero":false},"axis":null},"detail":{"field":"k","type":"nominal"},"fill":{"field":"l","type":"nominal","legend":null},"stroke":{"condition":[{"test":"test(/^P|F2/,datum.l)","value":"#e8643c"},{"test":"test(/^N|G2|G3/,datum.l)","value":"#6b6fa8"}],"value":"#777"},"strokeDash":{"condition":{"test":"test(/^N|G2|G3/,datum.l)","value":[3,2]},"value":[1,0]}}},{"data":{"name":"notes"},"transform":[{"filter":"datum.p=='k'"}],"mark":{"type":"rule","color":"#b5b5b5","strokeWidth":3,"strokeDash":[9,7]},"encoding":{"x":{"field":"d","type":"quantitative"},"y":{"field":"y0","type":"quantitative"},"y2":{"field":"y1"}}},{"data":{"name":"notes"},"transform":[{"filter":"datum.p=='k'"}],"mark":{"type":"text","fontSize":24},"encoding":{"x":{"field":"x","type":"quantitative"},"y":{"field":"y","type":"quantitative"},"text":{"field":"t"}}},{"data":{"name":"notes"},"transform":[{"filter":"datum.p=='k'"}],"mark":{"type":"rect","fill":null,"stroke":"#555","strokeWidth":1},"encoding":{"x":{"field":"x0","type":"quantitative"},"x2":{"field":"x1"},"y":{"field":"y0","type":"quantitative"},"y2":{"field":"y1"}}}]},
{"layer":[{"data":{"name":"l"},"mark":{"type":"line","order":false,"strokeWidth":0.7},"encoding":{"x":{"field":"x","type":"quantitative","scale":{"domain":[0,11],"range":[459,597],"nice":false},"axis":{"orient":"bottom","offset":-211,"values":[0,1,2,3,4,5,6,7,8,9,10,11],"labelExpr":"datum.value%2?'':['Jan','Mar','May','Jul','Sep','Nov'][datum.value/2]","encode":{"ticks":{"update":{"y2":{"signal":"datum.value%2==0?4:2"}}}}}},"y":{"field":"y","type":"quantitative","scale":{"domain":[10,25],"range":[763,627],"nice":false,"zero":false},"axis":{"orient":"right","offset":-88,"values":[10,11,12,13,14,15,16,17,18,19,20,21,22,23,24,25],"labelAlign":"left","labelPadding":4,"labelExpr":"datum.value%5?'':datum.value+'N'","encode":{"ticks":{"update":{"x2":{"signal":"datum.value%5==0?5:2"}}}}}},"detail":{"field":"k","type":"nominal"},"fill":{"field":"l","type":"nominal","legend":null},"stroke":{"condition":[{"test":"test(/^P|F2/,datum.l)","value":"#e8643c"},{"test":"test(/^N|G2|G3/,datum.l)","value":"#6b6fa8"}],"value":"#777"},"strokeDash":{"condition":{"test":"test(/^N|G2|G3/,datum.l)","value":[3,2]},"value":[1,0]}}},{"data":{"name":"notes"},"transform":[{"filter":"datum.p=='l'"}],"mark":{"type":"rule","color":"#b5b5b5","strokeWidth":3,"strokeDash":[9,7]},"encoding":{"x":{"field":"d","type":"quantitative"},"y":{"field":"y0","type":"quantitative"},"y2":{"field":"y1"}}},{"data":{"name":"notes"},"transform":[{"filter":"datum.p=='l'"}],"mark":{"type":"text","fontSize":24},"encoding":{"x":{"field":"x","type":"quantitative"},"y":{"field":"y","type":"quantitative"},"text":{"field":"t"}}},{"data":{"name":"notes"},"transform":[{"filter":"datum.p=='l'"}],"mark":{"type":"rect","fill":null,"stroke":"#555","strokeWidth":1},"encoding":{"x":{"field":"x0","type":"quantitative"},"x2":{"field":"x1"},"y":{"field":"y0","type":"quantitative"},"y2":{"field":"y1"}}}]},
{"layer":[{"data":{"name":"m"},"mark":{"type":"line","order":false,"strokeWidth":0.7},"encoding":{"x":{"field":"x","type":"quantitative","scale":{"domain":[0,11],"range":[18,156.5],"nice":false},"axis":{"orient":"bottom","offset":-23,"values":[0,1,2,3,4,5,6,7,8,9,10,11],"labelExpr":"datum.value%2?'':['Jan','Mar','May','Jul','Sep','Nov'][datum.value/2]","encode":{"ticks":{"update":{"y2":{"signal":"datum.value%2==0?4:2"}}}}}},"y":{"field":"y","type":"quantitative","scale":{"domain":[10,40],"range":[951,814],"nice":false,"zero":false},"axis":{"orient":"right","offset":-528.5,"values":[10,12,14,16,18,20,22,24,26,28,30,32,34,36,38,40],"labelAlign":"right","labelPadding":27,"labelExpr":"datum.value%10?'':datum.value+'N'","encode":{"ticks":{"update":{"x2":{"signal":"datum.value%10==0?5:2"}}}}}},"detail":{"field":"k","type":"nominal"},"fill":{"field":"l","type":"nominal","legend":null},"stroke":{"condition":[{"test":"test(/^P|F2/,datum.l)","value":"#e8643c"},{"test":"test(/^N|G2|G3/,datum.l)","value":"#6b6fa8"}],"value":"#777"},"strokeDash":{"condition":{"test":"test(/^N|G2|G3/,datum.l)","value":[3,2]},"value":[1,0]}}},{"data":{"name":"notes"},"transform":[{"filter":"datum.p=='m'"}],"mark":{"type":"rule","color":"#b5b5b5","strokeWidth":3,"strokeDash":[9,7]},"encoding":{"x":{"field":"d","type":"quantitative"},"y":{"field":"y0","type":"quantitative"},"y2":{"field":"y1"}}},{"data":{"name":"notes"},"transform":[{"filter":"datum.p=='m'"}],"mark":{"type":"text","fontSize":24},"encoding":{"x":{"field":"x","type":"quantitative"},"y":{"field":"y","type":"quantitative"},"text":{"field":"t"}}},{"data":{"name":"notes"},"transform":[{"filter":"datum.p=='m'"}],"mark":{"type":"rect","fill":null,"stroke":"#555","strokeWidth":1},"encoding":{"x":{"field":"x0","type":"quantitative"},"x2":{"field":"x1"},"y":{"field":"y0","type":"quantitative"},"y2":{"field":"y1"}}}]},
{"layer":[{"data":{"name":"n"},"mark":{"type":"line","order":false,"strokeWidth":0.7},"encoding":{"x":{"field":"x","type":"quantitative","scale":{"domain":[0,11],"range":[199,337],"nice":false},"axis":{"orient":"bottom","offset":-23,"values":[0,1,2,3,4,5,6,7,8,9,10,11],"labelExpr":"datum.value%2?'':['Jan','Mar','May','Jul','Sep','Nov'][datum.value/2]","encode":{"ticks":{"update":{"y2":{"signal":"datum.value%2==0?4:2"}}}}}},"y":{"field":"y","type":"quantitative","scale":{"domain":[10,40],"range":[951,814],"nice":false,"zero":false},"axis":null},"detail":{"field":"k","type":"nominal"},"fill":{"field":"l","type":"nominal","legend":null},"stroke":{"condition":[{"test":"test(/^P|F2/,datum.l)","value":"#e8643c"},{"test":"test(/^N|G2|G3/,datum.l)","value":"#6b6fa8"}],"value":"#777"},"strokeDash":{"condition":{"test":"test(/^N|G2|G3/,datum.l)","value":[3,2]},"value":[1,0]}}},{"data":{"name":"notes"},"transform":[{"filter":"datum.p=='n'"}],"mark":{"type":"rule","color":"#b5b5b5","strokeWidth":3,"strokeDash":[9,7]},"encoding":{"x":{"field":"d","type":"quantitative"},"y":{"field":"y0","type":"quantitative"},"y2":{"field":"y1"}}},{"data":{"name":"notes"},"transform":[{"filter":"datum.p=='n'"}],"mark":{"type":"text","fontSize":24},"encoding":{"x":{"field":"x","type":"quantitative"},"y":{"field":"y","type":"quantitative"},"text":{"field":"t"}}},{"data":{"name":"notes"},"transform":[{"filter":"datum.p=='n'"}],"mark":{"type":"rect","fill":null,"stroke":"#555","strokeWidth":1},"encoding":{"x":{"field":"x0","type":"quantitative"},"x2":{"field":"x1"},"y":{"field":"y0","type":"quantitative"},"y2":{"field":"y1"}}}]},
{"layer":[{"data":{"name":"o"},"mark":{"type":"line","order":false,"strokeWidth":0.7},"encoding":{"x":{"field":"x","type":"quantitative","scale":{"domain":[0,11],"range":[457.3,598.3],"nice":false},"axis":{"orient":"bottom","offset":-23,"values":[0,1,2,3,4,5,6,7,8,9,10,11],"labelExpr":"datum.value%2?'':['Jan','Mar','May','Jul','Sep','Nov'][datum.value/2]","encode":{"ticks":{"update":{"y2":{"signal":"datum.value%2==0?4:2"}}}}}},"y":{"field":"y","type":"quantitative","scale":{"domain":[10,40],"range":[951,814],"nice":false,"zero":false},"axis":{"orient":"right","offset":-86.7,"values":[10,12,14,16,18,20,22,24,26,28,30,32,34,36,38,40],"labelAlign":"left","labelPadding":4,"labelExpr":"datum.value%10?'':datum.value+'N'","encode":{"ticks":{"update":{"x2":{"signal":"datum.value%10==0?5:2"}}}}}},"detail":{"field":"k","type":"nominal"},"fill":{"field":"l","type":"nominal","legend":null},"stroke":{"condition":[{"test":"test(/^P|F2/,datum.l)","value":"#e8643c"},{"test":"test(/^N|G2|G3/,datum.l)","value":"#6b6fa8"}],"value":"#777"},"strokeDash":{"condition":{"test":"test(/^N|G2|G3/,datum.l)","value":[3,2]},"value":[1,0]}}},{"data":{"name":"notes"},"transform":[{"filter":"datum.p=='o'"}],"mark":{"type":"rule","color":"#b5b5b5","strokeWidth":3,"strokeDash":[9,7]},"encoding":{"x":{"field":"d","type":"quantitative"},"y":{"field":"y0","type":"quantitative"},"y2":{"field":"y1"}}},{"data":{"name":"notes"},"transform":[{"filter":"datum.p=='o'"}],"mark":{"type":"text","fontSize":24},"encoding":{"x":{"field":"x","type":"quantitative"},"y":{"field":"y","type":"quantitative"},"text":{"field":"t"}}},{"data":{"name":"notes"},"transform":[{"filter":"datum.p=='o'"}],"mark":{"type":"rect","fill":null,"stroke":"#555","strokeWidth":1},"encoding":{"x":{"field":"x0","type":"quantitative"},"x2":{"field":"x1"},"y":{"field":"y0","type":"quantitative"},"y2":{"field":"y1"}}}]}
]}
